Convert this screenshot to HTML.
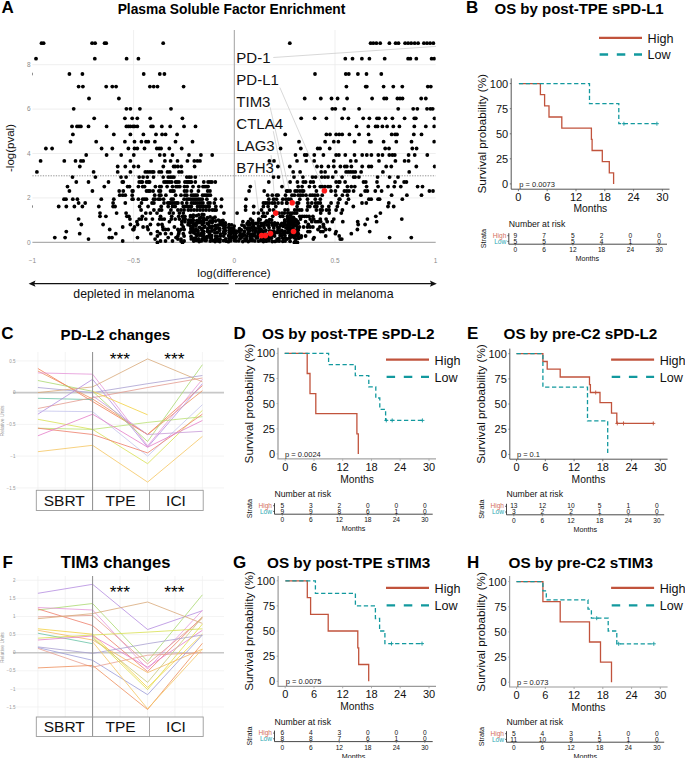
<!DOCTYPE html>
<html><head><meta charset="utf-8"><style>
html,body{margin:0;padding:0;background:#fff;width:685px;height:758px;overflow:hidden}
svg{display:block}
text{font-family:"Liberation Sans",sans-serif}
</style></head><body>
<svg width="685" height="758" viewBox="0 0 685 758">
<rect width="685" height="758" fill="#fff"/>
<text x="466.0" y="13.3" font-size="17" text-anchor="start" font-weight="bold" fill="#000" >B</text>
<text x="494.5" y="14.3" font-size="15" text-anchor="start" font-weight="bold" fill="#000" >OS by post-TPE sPD-L1</text>
<path d="M511.2,78.4 V189.2 H669.5" fill="none" stroke="#555" stroke-width="1.0"/>
<line x1="509.8" y1="183.9" x2="511.2" y2="183.9" stroke="#555" stroke-width="0.8"/>
<text x="508.2" y="187.8" font-size="11" text-anchor="end" font-weight="normal" fill="#111" >0</text>
<line x1="509.8" y1="158.8" x2="511.2" y2="158.8" stroke="#555" stroke-width="0.8"/>
<text x="508.2" y="162.7" font-size="11" text-anchor="end" font-weight="normal" fill="#111" >25</text>
<line x1="509.8" y1="133.8" x2="511.2" y2="133.8" stroke="#555" stroke-width="0.8"/>
<text x="508.2" y="137.7" font-size="11" text-anchor="end" font-weight="normal" fill="#111" >50</text>
<line x1="509.8" y1="108.7" x2="511.2" y2="108.7" stroke="#555" stroke-width="0.8"/>
<text x="508.2" y="112.6" font-size="11" text-anchor="end" font-weight="normal" fill="#111" >75</text>
<line x1="509.8" y1="83.6" x2="511.2" y2="83.6" stroke="#555" stroke-width="0.8"/>
<text x="508.2" y="87.5" font-size="11" text-anchor="end" font-weight="normal" fill="#111" >100</text>
<line x1="518.4" y1="189.2" x2="518.4" y2="191.2" stroke="#555" stroke-width="0.8"/>
<text x="518.4" y="201.0" font-size="11" text-anchor="middle" font-weight="normal" fill="#111" >0</text>
<line x1="547.2" y1="189.2" x2="547.2" y2="191.2" stroke="#555" stroke-width="0.8"/>
<text x="547.2" y="201.0" font-size="11" text-anchor="middle" font-weight="normal" fill="#111" >6</text>
<line x1="576.0" y1="189.2" x2="576.0" y2="191.2" stroke="#555" stroke-width="0.8"/>
<text x="576.0" y="201.0" font-size="11" text-anchor="middle" font-weight="normal" fill="#111" >12</text>
<line x1="604.8" y1="189.2" x2="604.8" y2="191.2" stroke="#555" stroke-width="0.8"/>
<text x="604.8" y="201.0" font-size="11" text-anchor="middle" font-weight="normal" fill="#111" >18</text>
<line x1="633.6" y1="189.2" x2="633.6" y2="191.2" stroke="#555" stroke-width="0.8"/>
<text x="633.6" y="201.0" font-size="11" text-anchor="middle" font-weight="normal" fill="#111" >24</text>
<line x1="662.4" y1="189.2" x2="662.4" y2="191.2" stroke="#555" stroke-width="0.8"/>
<text x="662.4" y="201.0" font-size="11" text-anchor="middle" font-weight="normal" fill="#111" >30</text>
<text x="590.4" y="212.2" font-size="10.3" text-anchor="middle" font-weight="normal" fill="#111" >Months</text>
<text x="0" y="0" text-anchor="middle" fill="#111" transform="translate(486.2,133.75) rotate(-90)" style="font-size:11.7px">Survival probability (%)</text>
<text x="519.3" y="186.9" font-size="7.5" text-anchor="start" font-weight="normal" fill="#222" >p = 0.0073</text>
<path d="M518.9,83.6 H540.4 V94.7 H544.6 V105.9 H549.0 V117.0 H561.8 V128.1 H591.4 V139.4 H592.1 V150.5 H602.3 V161.6 H609.3 V172.8 H613.6 V183.9 H613.6" fill="none" stroke="#C1533C" stroke-width="1.3"/>
<path d="M518.9,83.6 H589.5 V103.7 H618.8 V123.7 H657.4" fill="none" stroke="#12999E" stroke-width="1.3" stroke-dasharray="4.3,2.6"/>
<path d="M621.9,123.7 H625.9 M623.9,121.7 V125.7" stroke="#12999E" stroke-width="0.9"/>
<path d="M654.9,123.7 H658.9 M656.9,121.7 V125.7" stroke="#12999E" stroke-width="0.9"/>
<line x1="599" y1="37.8" x2="642" y2="37.8" stroke="#C1533C" stroke-width="2.3"/>
<text x="647.6" y="42.7" font-size="12.6" text-anchor="start" font-weight="normal" fill="#111" >High</text>
<line x1="599.6" y1="54.5" x2="642" y2="54.5" stroke="#12999E" stroke-width="2.3" stroke-dasharray="8.5,8.7"/>
<text x="647.6" y="59.4" font-size="12.6" text-anchor="start" font-weight="normal" fill="#111" >Low</text>
<text x="508.8" y="227.4" font-size="8.7" text-anchor="start" font-weight="normal" fill="#111" >Number at risk</text>
<path d="M508.8,233.2 V244.2 H667" fill="none" stroke="#333" stroke-width="0.9"/>
<path d="M507.3,235.7 H508.8 M507.3,241.39999999999998 H508.8" stroke="#333" stroke-width="0.7"/>
<line x1="515.3" y1="243.2" x2="515.3" y2="245.7" stroke="#666" stroke-width="0.6"/>
<text x="515.3" y="237.8" font-size="6.6" text-anchor="middle" font-weight="normal" fill="#111" >9</text>
<text x="515.3" y="243.6" font-size="6.6" text-anchor="middle" font-weight="normal" fill="#111" >5</text>
<text x="515.3" y="252.4" font-size="6.6" text-anchor="middle" font-weight="normal" fill="#111" >0</text>
<line x1="544.1" y1="243.2" x2="544.1" y2="245.7" stroke="#666" stroke-width="0.6"/>
<text x="544.1" y="237.8" font-size="6.6" text-anchor="middle" font-weight="normal" fill="#111" >7</text>
<text x="544.1" y="243.6" font-size="6.6" text-anchor="middle" font-weight="normal" fill="#111" >5</text>
<text x="544.1" y="252.4" font-size="6.6" text-anchor="middle" font-weight="normal" fill="#111" >6</text>
<line x1="572.9" y1="243.2" x2="572.9" y2="245.7" stroke="#666" stroke-width="0.6"/>
<text x="572.9" y="237.8" font-size="6.6" text-anchor="middle" font-weight="normal" fill="#111" >5</text>
<text x="572.9" y="243.6" font-size="6.6" text-anchor="middle" font-weight="normal" fill="#111" >5</text>
<text x="572.9" y="252.4" font-size="6.6" text-anchor="middle" font-weight="normal" fill="#111" >12</text>
<line x1="601.6" y1="243.2" x2="601.6" y2="245.7" stroke="#666" stroke-width="0.6"/>
<text x="601.6" y="237.8" font-size="6.6" text-anchor="middle" font-weight="normal" fill="#111" >2</text>
<text x="601.6" y="243.6" font-size="6.6" text-anchor="middle" font-weight="normal" fill="#111" >4</text>
<text x="601.6" y="252.4" font-size="6.6" text-anchor="middle" font-weight="normal" fill="#111" >18</text>
<line x1="630.4" y1="243.2" x2="630.4" y2="245.7" stroke="#666" stroke-width="0.6"/>
<text x="630.4" y="237.8" font-size="6.6" text-anchor="middle" font-weight="normal" fill="#111" >0</text>
<text x="630.4" y="243.6" font-size="6.6" text-anchor="middle" font-weight="normal" fill="#111" >1</text>
<text x="630.4" y="252.4" font-size="6.6" text-anchor="middle" font-weight="normal" fill="#111" >24</text>
<line x1="659.2" y1="243.2" x2="659.2" y2="245.7" stroke="#666" stroke-width="0.6"/>
<text x="659.2" y="237.8" font-size="6.6" text-anchor="middle" font-weight="normal" fill="#111" >0</text>
<text x="659.2" y="243.6" font-size="6.6" text-anchor="middle" font-weight="normal" fill="#111" >0</text>
<text x="659.2" y="252.4" font-size="6.6" text-anchor="middle" font-weight="normal" fill="#111" >30</text>
<text x="506.3" y="237.8" font-size="6.6" text-anchor="end" font-weight="normal" fill="#D36F5E" >High</text>
<text x="506.3" y="243.6" font-size="6.6" text-anchor="end" font-weight="normal" fill="#2BA9B4" >Low</text>
<text x="587.3" y="261.1" font-size="7.2" text-anchor="middle" font-weight="normal" fill="#111" >Months</text>
<text x="0" y="0" text-anchor="middle" fill="#111" transform="translate(486.2,238.6) rotate(-90)" style="font-size:7.2px">Strata</text>
<text x="233.5" y="338.6" font-size="17" text-anchor="start" font-weight="bold" fill="#000" >D</text>
<text x="262.0" y="338.8" font-size="15.3" text-anchor="start" font-weight="bold" fill="#000" >OS by post-TPE sPD-L2</text>
<path d="M278.0,347.7 V458.9 H436" fill="none" stroke="#a5a5a5" stroke-width="1.4"/>
<line x1="276.6" y1="453.9" x2="278.0" y2="453.9" stroke="#a5a5a5" stroke-width="0.8"/>
<text x="275.0" y="457.8" font-size="11" text-anchor="end" font-weight="normal" fill="#111" >0</text>
<line x1="276.6" y1="428.8" x2="278.0" y2="428.8" stroke="#a5a5a5" stroke-width="0.8"/>
<text x="275.0" y="432.7" font-size="11" text-anchor="end" font-weight="normal" fill="#111" >25</text>
<line x1="276.6" y1="403.6" x2="278.0" y2="403.6" stroke="#a5a5a5" stroke-width="0.8"/>
<text x="275.0" y="407.5" font-size="11" text-anchor="end" font-weight="normal" fill="#111" >50</text>
<line x1="276.6" y1="378.5" x2="278.0" y2="378.5" stroke="#a5a5a5" stroke-width="0.8"/>
<text x="275.0" y="382.4" font-size="11" text-anchor="end" font-weight="normal" fill="#111" >75</text>
<line x1="276.6" y1="353.4" x2="278.0" y2="353.4" stroke="#a5a5a5" stroke-width="0.8"/>
<text x="275.0" y="357.3" font-size="11" text-anchor="end" font-weight="normal" fill="#111" >100</text>
<line x1="285.2" y1="458.9" x2="285.2" y2="460.9" stroke="#a5a5a5" stroke-width="0.8"/>
<text x="285.2" y="470.7" font-size="11" text-anchor="middle" font-weight="normal" fill="#111" >0</text>
<line x1="314.0" y1="458.9" x2="314.0" y2="460.9" stroke="#a5a5a5" stroke-width="0.8"/>
<text x="314.0" y="470.7" font-size="11" text-anchor="middle" font-weight="normal" fill="#111" >6</text>
<line x1="342.7" y1="458.9" x2="342.7" y2="460.9" stroke="#a5a5a5" stroke-width="0.8"/>
<text x="342.7" y="470.7" font-size="11" text-anchor="middle" font-weight="normal" fill="#111" >12</text>
<line x1="371.5" y1="458.9" x2="371.5" y2="460.9" stroke="#a5a5a5" stroke-width="0.8"/>
<text x="371.5" y="470.7" font-size="11" text-anchor="middle" font-weight="normal" fill="#111" >18</text>
<line x1="400.2" y1="458.9" x2="400.2" y2="460.9" stroke="#a5a5a5" stroke-width="0.8"/>
<text x="400.2" y="470.7" font-size="11" text-anchor="middle" font-weight="normal" fill="#111" >24</text>
<line x1="429.0" y1="458.9" x2="429.0" y2="460.9" stroke="#a5a5a5" stroke-width="0.8"/>
<text x="429.0" y="470.7" font-size="11" text-anchor="middle" font-weight="normal" fill="#111" >30</text>
<text x="357.1" y="482.7" font-size="10.3" text-anchor="middle" font-weight="normal" fill="#111" >Months</text>
<text x="0" y="0" text-anchor="middle" fill="#111" transform="translate(252.8,403.65) rotate(-90)" style="font-size:11.7px">Survival probability (%)</text>
<text x="285.1" y="456.9" font-size="7.5" text-anchor="start" font-weight="normal" fill="#222" >p = 0.0024</text>
<path d="M284.7,353.4 H307.2 V373.5 H310.0 V393.6 H315.8 V413.7 H356.9 V433.8 H358.3 V453.9 H358.3" fill="none" stroke="#C1533C" stroke-width="1.3"/>
<path d="M284.7,353.4 H328.6 V364.6 H355.3 V375.7 H368.8 V386.9 H375.8 V398.0 H379.8 V409.3 H385.6 V420.4 H422.4" fill="none" stroke="#12999E" stroke-width="1.3" stroke-dasharray="4.3,2.6"/>
<path d="M384.3,420.4 H388.3 M386.3,418.4 V422.4" stroke="#12999E" stroke-width="0.9"/>
<path d="M390.2,420.4 H394.2 M392.2,418.4 V422.4" stroke="#12999E" stroke-width="0.9"/>
<path d="M420.4,420.4 H424.4 M422.4,418.4 V422.4" stroke="#12999E" stroke-width="0.9"/>
<line x1="386" y1="359.7" x2="429" y2="359.7" stroke="#C1533C" stroke-width="2.3"/>
<text x="434.6" y="364.6" font-size="12.6" text-anchor="start" font-weight="normal" fill="#111" >High</text>
<line x1="386.6" y1="376.9" x2="429" y2="376.9" stroke="#12999E" stroke-width="2.3" stroke-dasharray="8.5,8.7"/>
<text x="434.6" y="381.8" font-size="12.6" text-anchor="start" font-weight="normal" fill="#111" >Low</text>
<text x="274.5" y="496.6" font-size="8.7" text-anchor="start" font-weight="normal" fill="#111" >Number at risk</text>
<path d="M274.5,503.20000000000005 V514.2 H432.7" fill="none" stroke="#333" stroke-width="0.9"/>
<path d="M273.0,505.70000000000005 H274.5 M273.0,511.40000000000003 H274.5" stroke="#333" stroke-width="0.7"/>
<line x1="282.3" y1="513.2" x2="282.3" y2="515.7" stroke="#666" stroke-width="0.6"/>
<text x="282.3" y="507.8" font-size="6.6" text-anchor="middle" font-weight="normal" fill="#111" >5</text>
<text x="282.3" y="513.6" font-size="6.6" text-anchor="middle" font-weight="normal" fill="#111" >9</text>
<text x="282.3" y="522.4" font-size="6.6" text-anchor="middle" font-weight="normal" fill="#111" >0</text>
<line x1="310.8" y1="513.2" x2="310.8" y2="515.7" stroke="#666" stroke-width="0.6"/>
<text x="310.8" y="507.8" font-size="6.6" text-anchor="middle" font-weight="normal" fill="#111" >3</text>
<text x="310.8" y="513.6" font-size="6.6" text-anchor="middle" font-weight="normal" fill="#111" >9</text>
<text x="310.8" y="522.4" font-size="6.6" text-anchor="middle" font-weight="normal" fill="#111" >6</text>
<line x1="339.3" y1="513.2" x2="339.3" y2="515.7" stroke="#666" stroke-width="0.6"/>
<text x="339.3" y="507.8" font-size="6.6" text-anchor="middle" font-weight="normal" fill="#111" >2</text>
<text x="339.3" y="513.6" font-size="6.6" text-anchor="middle" font-weight="normal" fill="#111" >8</text>
<text x="339.3" y="522.4" font-size="6.6" text-anchor="middle" font-weight="normal" fill="#111" >12</text>
<line x1="367.8" y1="513.2" x2="367.8" y2="515.7" stroke="#666" stroke-width="0.6"/>
<text x="367.8" y="507.8" font-size="6.6" text-anchor="middle" font-weight="normal" fill="#111" >0</text>
<text x="367.8" y="513.6" font-size="6.6" text-anchor="middle" font-weight="normal" fill="#111" >6</text>
<text x="367.8" y="522.4" font-size="6.6" text-anchor="middle" font-weight="normal" fill="#111" >18</text>
<line x1="396.3" y1="513.2" x2="396.3" y2="515.7" stroke="#666" stroke-width="0.6"/>
<text x="396.3" y="507.8" font-size="6.6" text-anchor="middle" font-weight="normal" fill="#111" >0</text>
<text x="396.3" y="513.6" font-size="6.6" text-anchor="middle" font-weight="normal" fill="#111" >1</text>
<text x="396.3" y="522.4" font-size="6.6" text-anchor="middle" font-weight="normal" fill="#111" >24</text>
<line x1="424.8" y1="513.2" x2="424.8" y2="515.7" stroke="#666" stroke-width="0.6"/>
<text x="424.8" y="507.8" font-size="6.6" text-anchor="middle" font-weight="normal" fill="#111" >0</text>
<text x="424.8" y="513.6" font-size="6.6" text-anchor="middle" font-weight="normal" fill="#111" >0</text>
<text x="424.8" y="522.4" font-size="6.6" text-anchor="middle" font-weight="normal" fill="#111" >30</text>
<text x="272.0" y="507.8" font-size="6.6" text-anchor="end" font-weight="normal" fill="#D36F5E" >High</text>
<text x="272.0" y="513.6" font-size="6.6" text-anchor="end" font-weight="normal" fill="#2BA9B4" >Low</text>
<text x="353.6" y="531.1" font-size="7.2" text-anchor="middle" font-weight="normal" fill="#111" >Months</text>
<text x="0" y="0" text-anchor="middle" fill="#111" transform="translate(251.9,508.6) rotate(-90)" style="font-size:7.2px">Strata</text>
<text x="467.0" y="338.6" font-size="17" text-anchor="start" font-weight="bold" fill="#000" >E</text>
<text x="503.5" y="338.8" font-size="15.3" text-anchor="start" font-weight="bold" fill="#000" >OS by pre-C2 sPD-L2</text>
<path d="M509.8,348.6 V459.2 H667.6" fill="none" stroke="#555" stroke-width="1.0"/>
<line x1="508.40000000000003" y1="454.4" x2="509.8" y2="454.4" stroke="#555" stroke-width="0.8"/>
<text x="506.8" y="458.3" font-size="11" text-anchor="end" font-weight="normal" fill="#111" >0</text>
<line x1="508.40000000000003" y1="429.2" x2="509.8" y2="429.2" stroke="#555" stroke-width="0.8"/>
<text x="506.8" y="433.1" font-size="11" text-anchor="end" font-weight="normal" fill="#111" >25</text>
<line x1="508.40000000000003" y1="404.0" x2="509.8" y2="404.0" stroke="#555" stroke-width="0.8"/>
<text x="506.8" y="407.9" font-size="11" text-anchor="end" font-weight="normal" fill="#111" >50</text>
<line x1="508.40000000000003" y1="378.9" x2="509.8" y2="378.9" stroke="#555" stroke-width="0.8"/>
<text x="506.8" y="382.8" font-size="11" text-anchor="end" font-weight="normal" fill="#111" >75</text>
<line x1="508.40000000000003" y1="353.7" x2="509.8" y2="353.7" stroke="#555" stroke-width="0.8"/>
<text x="506.8" y="357.6" font-size="11" text-anchor="end" font-weight="normal" fill="#111" >100</text>
<line x1="516.6" y1="459.2" x2="516.6" y2="461.2" stroke="#555" stroke-width="0.8"/>
<text x="516.6" y="471.0" font-size="11" text-anchor="middle" font-weight="normal" fill="#111" >0</text>
<line x1="545.3" y1="459.2" x2="545.3" y2="461.2" stroke="#555" stroke-width="0.8"/>
<text x="545.3" y="471.0" font-size="11" text-anchor="middle" font-weight="normal" fill="#111" >6</text>
<line x1="574.1" y1="459.2" x2="574.1" y2="461.2" stroke="#555" stroke-width="0.8"/>
<text x="574.1" y="471.0" font-size="11" text-anchor="middle" font-weight="normal" fill="#111" >12</text>
<line x1="602.8" y1="459.2" x2="602.8" y2="461.2" stroke="#555" stroke-width="0.8"/>
<text x="602.8" y="471.0" font-size="11" text-anchor="middle" font-weight="normal" fill="#111" >18</text>
<line x1="631.6" y1="459.2" x2="631.6" y2="461.2" stroke="#555" stroke-width="0.8"/>
<text x="631.6" y="471.0" font-size="11" text-anchor="middle" font-weight="normal" fill="#111" >24</text>
<line x1="660.3" y1="459.2" x2="660.3" y2="461.2" stroke="#555" stroke-width="0.8"/>
<text x="660.3" y="471.0" font-size="11" text-anchor="middle" font-weight="normal" fill="#111" >30</text>
<text x="588.5" y="483.0" font-size="10.3" text-anchor="middle" font-weight="normal" fill="#111" >Months</text>
<text x="0" y="0" text-anchor="middle" fill="#111" transform="translate(484.5,404.04999999999995) rotate(-90)" style="font-size:11.7px">Survival probability (%)</text>
<text x="516.9" y="457.4" font-size="7.5" text-anchor="start" font-weight="normal" fill="#222" >p = 0.1</text>
<path d="M516.5,353.7 H542.9 V361.5 H547.2 V369.2 H560.2 V377.0 H589.5 V384.7 H590.4 V392.5 H600.0 V402.7 H611.5 V413.1 H616.8 V423.4 H653.8" fill="none" stroke="#C1533C" stroke-width="1.3"/>
<path d="M516.5,353.7 H542.9 V387.2 H587.5 V420.9 H607.7 V454.4 H607.7" fill="none" stroke="#12999E" stroke-width="1.3" stroke-dasharray="4.3,2.6"/>
<path d="M593.7,392.5 H597.7 M595.7,390.5 V394.5" stroke="#C1533C" stroke-width="0.9"/>
<path d="M615.3,423.4 H619.3 M617.3,421.4 V425.4" stroke="#C1533C" stroke-width="0.9"/>
<path d="M621.5,423.4 H625.5 M623.5,421.4 V425.4" stroke="#C1533C" stroke-width="0.9"/>
<path d="M651.3,423.4 H655.3 M653.3,421.4 V425.4" stroke="#C1533C" stroke-width="0.9"/>
<line x1="611.1" y1="359.7" x2="654.1" y2="359.7" stroke="#C1533C" stroke-width="2.3"/>
<text x="659.7" y="364.6" font-size="12.6" text-anchor="start" font-weight="normal" fill="#111" >High</text>
<line x1="611.7" y1="376.9" x2="654.1" y2="376.9" stroke="#12999E" stroke-width="2.3" stroke-dasharray="8.5,8.7"/>
<text x="659.7" y="381.8" font-size="12.6" text-anchor="start" font-weight="normal" fill="#111" >Low</text>
<text x="506.5" y="497.1" font-size="8.7" text-anchor="start" font-weight="normal" fill="#111" >Number at risk</text>
<path d="M506.5,503.79999999999995 V514.8 H664.2" fill="none" stroke="#333" stroke-width="0.9"/>
<path d="M505.0,506.29999999999995 H506.5 M505.0,511.99999999999994 H506.5" stroke="#333" stroke-width="0.7"/>
<line x1="513.8" y1="513.8" x2="513.8" y2="516.3" stroke="#666" stroke-width="0.6"/>
<text x="513.8" y="508.4" font-size="6.6" text-anchor="middle" font-weight="normal" fill="#111" >13</text>
<text x="513.8" y="514.2" font-size="6.6" text-anchor="middle" font-weight="normal" fill="#111" >3</text>
<text x="513.8" y="523.0" font-size="6.6" text-anchor="middle" font-weight="normal" fill="#111" >0</text>
<line x1="542.4" y1="513.8" x2="542.4" y2="516.3" stroke="#666" stroke-width="0.6"/>
<text x="542.4" y="508.4" font-size="6.6" text-anchor="middle" font-weight="normal" fill="#111" >12</text>
<text x="542.4" y="514.2" font-size="6.6" text-anchor="middle" font-weight="normal" fill="#111" >2</text>
<text x="542.4" y="523.0" font-size="6.6" text-anchor="middle" font-weight="normal" fill="#111" >6</text>
<line x1="571.0" y1="513.8" x2="571.0" y2="516.3" stroke="#666" stroke-width="0.6"/>
<text x="571.0" y="508.4" font-size="6.6" text-anchor="middle" font-weight="normal" fill="#111" >10</text>
<text x="571.0" y="514.2" font-size="6.6" text-anchor="middle" font-weight="normal" fill="#111" >2</text>
<text x="571.0" y="523.0" font-size="6.6" text-anchor="middle" font-weight="normal" fill="#111" >12</text>
<line x1="599.7" y1="513.8" x2="599.7" y2="516.3" stroke="#666" stroke-width="0.6"/>
<text x="599.7" y="508.4" font-size="6.6" text-anchor="middle" font-weight="normal" fill="#111" >5</text>
<text x="599.7" y="514.2" font-size="6.6" text-anchor="middle" font-weight="normal" fill="#111" >1</text>
<text x="599.7" y="523.0" font-size="6.6" text-anchor="middle" font-weight="normal" fill="#111" >18</text>
<line x1="628.3" y1="513.8" x2="628.3" y2="516.3" stroke="#666" stroke-width="0.6"/>
<text x="628.3" y="508.4" font-size="6.6" text-anchor="middle" font-weight="normal" fill="#111" >1</text>
<text x="628.3" y="514.2" font-size="6.6" text-anchor="middle" font-weight="normal" fill="#111" >0</text>
<text x="628.3" y="523.0" font-size="6.6" text-anchor="middle" font-weight="normal" fill="#111" >24</text>
<line x1="656.9" y1="513.8" x2="656.9" y2="516.3" stroke="#666" stroke-width="0.6"/>
<text x="656.9" y="508.4" font-size="6.6" text-anchor="middle" font-weight="normal" fill="#111" >0</text>
<text x="656.9" y="514.2" font-size="6.6" text-anchor="middle" font-weight="normal" fill="#111" >0</text>
<text x="656.9" y="523.0" font-size="6.6" text-anchor="middle" font-weight="normal" fill="#111" >30</text>
<text x="504.0" y="508.4" font-size="6.6" text-anchor="end" font-weight="normal" fill="#D36F5E" >High</text>
<text x="504.0" y="514.2" font-size="6.6" text-anchor="end" font-weight="normal" fill="#2BA9B4" >Low</text>
<text x="585.3" y="531.7" font-size="7.2" text-anchor="middle" font-weight="normal" fill="#111" >Months</text>
<text x="0" y="0" text-anchor="middle" fill="#111" transform="translate(483.9,509.19999999999993) rotate(-90)" style="font-size:7.2px">Strata</text>
<text x="233.0" y="568.0" font-size="17" text-anchor="start" font-weight="bold" fill="#000" >G</text>
<text x="267.0" y="568.1" font-size="15.3" text-anchor="start" font-weight="bold" fill="#000" >OS by post-TPE sTIM3</text>
<path d="M278.1,576 V686.3 H436" fill="none" stroke="#9a9a9a" stroke-width="1.2"/>
<line x1="276.70000000000005" y1="681.3" x2="278.1" y2="681.3" stroke="#9a9a9a" stroke-width="0.8"/>
<text x="275.1" y="685.2" font-size="11" text-anchor="end" font-weight="normal" fill="#111" >0</text>
<line x1="276.70000000000005" y1="656.2" x2="278.1" y2="656.2" stroke="#9a9a9a" stroke-width="0.8"/>
<text x="275.1" y="660.1" font-size="11" text-anchor="end" font-weight="normal" fill="#111" >25</text>
<line x1="276.70000000000005" y1="631.0" x2="278.1" y2="631.0" stroke="#9a9a9a" stroke-width="0.8"/>
<text x="275.1" y="634.9" font-size="11" text-anchor="end" font-weight="normal" fill="#111" >50</text>
<line x1="276.70000000000005" y1="605.9" x2="278.1" y2="605.9" stroke="#9a9a9a" stroke-width="0.8"/>
<text x="275.1" y="609.8" font-size="11" text-anchor="end" font-weight="normal" fill="#111" >75</text>
<line x1="276.70000000000005" y1="580.8" x2="278.1" y2="580.8" stroke="#9a9a9a" stroke-width="0.8"/>
<text x="275.1" y="584.7" font-size="11" text-anchor="end" font-weight="normal" fill="#111" >100</text>
<line x1="285.2" y1="686.3" x2="285.2" y2="688.3" stroke="#9a9a9a" stroke-width="0.8"/>
<text x="285.2" y="698.1" font-size="11" text-anchor="middle" font-weight="normal" fill="#111" >0</text>
<line x1="314.0" y1="686.3" x2="314.0" y2="688.3" stroke="#9a9a9a" stroke-width="0.8"/>
<text x="314.0" y="698.1" font-size="11" text-anchor="middle" font-weight="normal" fill="#111" >6</text>
<line x1="342.7" y1="686.3" x2="342.7" y2="688.3" stroke="#9a9a9a" stroke-width="0.8"/>
<text x="342.7" y="698.1" font-size="11" text-anchor="middle" font-weight="normal" fill="#111" >12</text>
<line x1="371.5" y1="686.3" x2="371.5" y2="688.3" stroke="#9a9a9a" stroke-width="0.8"/>
<text x="371.5" y="698.1" font-size="11" text-anchor="middle" font-weight="normal" fill="#111" >18</text>
<line x1="400.2" y1="686.3" x2="400.2" y2="688.3" stroke="#9a9a9a" stroke-width="0.8"/>
<text x="400.2" y="698.1" font-size="11" text-anchor="middle" font-weight="normal" fill="#111" >24</text>
<line x1="429.0" y1="686.3" x2="429.0" y2="688.3" stroke="#9a9a9a" stroke-width="0.8"/>
<text x="429.0" y="698.1" font-size="11" text-anchor="middle" font-weight="normal" fill="#111" >30</text>
<text x="357.1" y="710.1" font-size="10.3" text-anchor="middle" font-weight="normal" fill="#111" >Months</text>
<text x="0" y="0" text-anchor="middle" fill="#111" transform="translate(252.8,631.05) rotate(-90)" style="font-size:11.7px">Survival probability (%)</text>
<text x="285.8" y="684.3" font-size="7.5" text-anchor="start" font-weight="normal" fill="#222" >p = 0.0075</text>
<path d="M285.4,580.8 H307.3 V597.6 H310.6 V614.3 H328.2 V631.0 H357.8 V647.8 H358.7 V664.5 H368.7 V681.3 H368.7" fill="none" stroke="#C1533C" stroke-width="1.3"/>
<path d="M285.4,580.8 H315.4 V593.4 H355.4 V605.9 H375.4 V618.5 H379.6 V631.0 H384.9 V643.6 H423.0" fill="none" stroke="#12999E" stroke-width="1.3" stroke-dasharray="4.3,2.6"/>
<path d="M389.5,643.6 H393.5 M391.5,641.6 V645.6" stroke="#12999E" stroke-width="0.9"/>
<path d="M420.0,643.6 H424.0 M422.0,641.6 V645.6" stroke="#12999E" stroke-width="0.9"/>
<line x1="386" y1="587.8" x2="429" y2="587.8" stroke="#C1533C" stroke-width="2.3"/>
<text x="434.6" y="592.7" font-size="12.6" text-anchor="start" font-weight="normal" fill="#111" >High</text>
<line x1="386.6" y1="605.3" x2="429" y2="605.3" stroke="#12999E" stroke-width="2.3" stroke-dasharray="8.5,8.7"/>
<text x="434.6" y="610.2" font-size="12.6" text-anchor="start" font-weight="normal" fill="#111" >Low</text>
<text x="274.5" y="724.6" font-size="8.7" text-anchor="start" font-weight="normal" fill="#111" >Number at risk</text>
<path d="M274.5,730.6 V741.6 H432.7" fill="none" stroke="#333" stroke-width="0.9"/>
<path d="M273.0,733.1 H274.5 M273.0,738.8000000000001 H274.5" stroke="#333" stroke-width="0.7"/>
<line x1="282.3" y1="740.6" x2="282.3" y2="743.1" stroke="#666" stroke-width="0.6"/>
<text x="282.3" y="735.2" font-size="6.6" text-anchor="middle" font-weight="normal" fill="#111" >6</text>
<text x="282.3" y="741.0" font-size="6.6" text-anchor="middle" font-weight="normal" fill="#111" >8</text>
<text x="282.3" y="749.8" font-size="6.6" text-anchor="middle" font-weight="normal" fill="#111" >0</text>
<line x1="310.8" y1="740.6" x2="310.8" y2="743.1" stroke="#666" stroke-width="0.6"/>
<text x="310.8" y="735.2" font-size="6.6" text-anchor="middle" font-weight="normal" fill="#111" >4</text>
<text x="310.8" y="741.0" font-size="6.6" text-anchor="middle" font-weight="normal" fill="#111" >8</text>
<text x="310.8" y="749.8" font-size="6.6" text-anchor="middle" font-weight="normal" fill="#111" >6</text>
<line x1="339.3" y1="740.6" x2="339.3" y2="743.1" stroke="#666" stroke-width="0.6"/>
<text x="339.3" y="735.2" font-size="6.6" text-anchor="middle" font-weight="normal" fill="#111" >3</text>
<text x="339.3" y="741.0" font-size="6.6" text-anchor="middle" font-weight="normal" fill="#111" >7</text>
<text x="339.3" y="749.8" font-size="6.6" text-anchor="middle" font-weight="normal" fill="#111" >12</text>
<line x1="367.8" y1="740.6" x2="367.8" y2="743.1" stroke="#666" stroke-width="0.6"/>
<text x="367.8" y="735.2" font-size="6.6" text-anchor="middle" font-weight="normal" fill="#111" >0</text>
<text x="367.8" y="741.0" font-size="6.6" text-anchor="middle" font-weight="normal" fill="#111" >6</text>
<text x="367.8" y="749.8" font-size="6.6" text-anchor="middle" font-weight="normal" fill="#111" >18</text>
<line x1="396.3" y1="740.6" x2="396.3" y2="743.1" stroke="#666" stroke-width="0.6"/>
<text x="396.3" y="735.2" font-size="6.6" text-anchor="middle" font-weight="normal" fill="#111" >0</text>
<text x="396.3" y="741.0" font-size="6.6" text-anchor="middle" font-weight="normal" fill="#111" >1</text>
<text x="396.3" y="749.8" font-size="6.6" text-anchor="middle" font-weight="normal" fill="#111" >24</text>
<line x1="424.8" y1="740.6" x2="424.8" y2="743.1" stroke="#666" stroke-width="0.6"/>
<text x="424.8" y="735.2" font-size="6.6" text-anchor="middle" font-weight="normal" fill="#111" >0</text>
<text x="424.8" y="741.0" font-size="6.6" text-anchor="middle" font-weight="normal" fill="#111" >0</text>
<text x="424.8" y="749.8" font-size="6.6" text-anchor="middle" font-weight="normal" fill="#111" >30</text>
<text x="272.0" y="735.2" font-size="6.6" text-anchor="end" font-weight="normal" fill="#D36F5E" >High</text>
<text x="272.0" y="741.0" font-size="6.6" text-anchor="end" font-weight="normal" fill="#2BA9B4" >Low</text>
<text x="353.6" y="758.5" font-size="7.2" text-anchor="middle" font-weight="normal" fill="#111" >Months</text>
<text x="0" y="0" text-anchor="middle" fill="#111" transform="translate(251.9,736.0) rotate(-90)" style="font-size:7.2px">Strata</text>
<text x="467.0" y="568.0" font-size="17" text-anchor="start" font-weight="bold" fill="#000" >H</text>
<text x="508.5" y="568.1" font-size="15.3" text-anchor="start" font-weight="bold" fill="#000" >OS by pre-C2 sTIM3</text>
<path d="M509.6,576 V687.0 H667.6" fill="none" stroke="#9a9a9a" stroke-width="1.2"/>
<line x1="508.20000000000005" y1="682.2" x2="509.6" y2="682.2" stroke="#9a9a9a" stroke-width="0.8"/>
<text x="506.6" y="686.1" font-size="11" text-anchor="end" font-weight="normal" fill="#111" >0</text>
<line x1="508.20000000000005" y1="657.1" x2="509.6" y2="657.1" stroke="#9a9a9a" stroke-width="0.8"/>
<text x="506.6" y="661.0" font-size="11" text-anchor="end" font-weight="normal" fill="#111" >25</text>
<line x1="508.20000000000005" y1="631.9" x2="509.6" y2="631.9" stroke="#9a9a9a" stroke-width="0.8"/>
<text x="506.6" y="635.8" font-size="11" text-anchor="end" font-weight="normal" fill="#111" >50</text>
<line x1="508.20000000000005" y1="606.8" x2="509.6" y2="606.8" stroke="#9a9a9a" stroke-width="0.8"/>
<text x="506.6" y="610.6" font-size="11" text-anchor="end" font-weight="normal" fill="#111" >75</text>
<line x1="508.20000000000005" y1="581.6" x2="509.6" y2="581.6" stroke="#9a9a9a" stroke-width="0.8"/>
<text x="506.6" y="585.5" font-size="11" text-anchor="end" font-weight="normal" fill="#111" >100</text>
<line x1="516.6" y1="687.0" x2="516.6" y2="689.0" stroke="#9a9a9a" stroke-width="0.8"/>
<text x="516.6" y="698.8" font-size="11" text-anchor="middle" font-weight="normal" fill="#111" >0</text>
<line x1="545.3" y1="687.0" x2="545.3" y2="689.0" stroke="#9a9a9a" stroke-width="0.8"/>
<text x="545.3" y="698.8" font-size="11" text-anchor="middle" font-weight="normal" fill="#111" >6</text>
<line x1="574.1" y1="687.0" x2="574.1" y2="689.0" stroke="#9a9a9a" stroke-width="0.8"/>
<text x="574.1" y="698.8" font-size="11" text-anchor="middle" font-weight="normal" fill="#111" >12</text>
<line x1="602.8" y1="687.0" x2="602.8" y2="689.0" stroke="#9a9a9a" stroke-width="0.8"/>
<text x="602.8" y="698.8" font-size="11" text-anchor="middle" font-weight="normal" fill="#111" >18</text>
<line x1="631.6" y1="687.0" x2="631.6" y2="689.0" stroke="#9a9a9a" stroke-width="0.8"/>
<text x="631.6" y="698.8" font-size="11" text-anchor="middle" font-weight="normal" fill="#111" >24</text>
<line x1="660.3" y1="687.0" x2="660.3" y2="689.0" stroke="#9a9a9a" stroke-width="0.8"/>
<text x="660.3" y="698.8" font-size="11" text-anchor="middle" font-weight="normal" fill="#111" >30</text>
<text x="588.5" y="710.8" font-size="10.3" text-anchor="middle" font-weight="normal" fill="#111" >Months</text>
<text x="0" y="0" text-anchor="middle" fill="#111" transform="translate(484.5,631.9000000000001) rotate(-90)" style="font-size:11.7px">Survival probability (%)</text>
<text x="516.9" y="685.2" font-size="7.5" text-anchor="start" font-weight="normal" fill="#222" >p = 0.073</text>
<path d="M516.5,581.6 H542.9 V601.7 H560.2 V621.8 H589.5 V642.0 H600.5 V662.1 H611.5 V682.2 H611.5" fill="none" stroke="#C1533C" stroke-width="1.3"/>
<path d="M516.5,581.6 H542.9 V590.8 H546.3 V599.9 H588.0 V609.1 H591.4 V618.2 H608.2 V631.0 H616.8 V643.8 H653.8" fill="none" stroke="#12999E" stroke-width="1.3" stroke-dasharray="4.3,2.6"/>
<path d="M594.7,618.2 H598.7 M596.7,616.2 V620.2" stroke="#12999E" stroke-width="0.9"/>
<path d="M616.7,643.8 H620.7 M618.7,641.8 V645.8" stroke="#12999E" stroke-width="0.9"/>
<path d="M651.8,643.8 H655.8 M653.8,641.8 V645.8" stroke="#12999E" stroke-width="0.9"/>
<line x1="611.1" y1="587.8" x2="654.1" y2="587.8" stroke="#C1533C" stroke-width="2.3"/>
<text x="659.7" y="592.7" font-size="12.6" text-anchor="start" font-weight="normal" fill="#111" >High</text>
<line x1="611.7" y1="605.3" x2="654.1" y2="605.3" stroke="#12999E" stroke-width="2.3" stroke-dasharray="8.5,8.7"/>
<text x="659.7" y="610.2" font-size="12.6" text-anchor="start" font-weight="normal" fill="#111" >Low</text>
<text x="506.5" y="725.1" font-size="8.7" text-anchor="start" font-weight="normal" fill="#111" >Number at risk</text>
<path d="M506.5,731.2 V742.2 H664.2" fill="none" stroke="#333" stroke-width="0.9"/>
<path d="M505.0,733.7 H506.5 M505.0,739.4000000000001 H506.5" stroke="#333" stroke-width="0.7"/>
<line x1="513.8" y1="741.2" x2="513.8" y2="743.7" stroke="#666" stroke-width="0.6"/>
<text x="513.8" y="735.8" font-size="6.6" text-anchor="middle" font-weight="normal" fill="#111" >5</text>
<text x="513.8" y="741.6" font-size="6.6" text-anchor="middle" font-weight="normal" fill="#111" >11</text>
<text x="513.8" y="750.4" font-size="6.6" text-anchor="middle" font-weight="normal" fill="#111" >0</text>
<line x1="542.4" y1="741.2" x2="542.4" y2="743.7" stroke="#666" stroke-width="0.6"/>
<text x="542.4" y="735.8" font-size="6.6" text-anchor="middle" font-weight="normal" fill="#111" >4</text>
<text x="542.4" y="741.6" font-size="6.6" text-anchor="middle" font-weight="normal" fill="#111" >10</text>
<text x="542.4" y="750.4" font-size="6.6" text-anchor="middle" font-weight="normal" fill="#111" >6</text>
<line x1="571.0" y1="741.2" x2="571.0" y2="743.7" stroke="#666" stroke-width="0.6"/>
<text x="571.0" y="735.8" font-size="6.6" text-anchor="middle" font-weight="normal" fill="#111" >3</text>
<text x="571.0" y="741.6" font-size="6.6" text-anchor="middle" font-weight="normal" fill="#111" >9</text>
<text x="571.0" y="750.4" font-size="6.6" text-anchor="middle" font-weight="normal" fill="#111" >12</text>
<line x1="599.7" y1="741.2" x2="599.7" y2="743.7" stroke="#666" stroke-width="0.6"/>
<text x="599.7" y="735.8" font-size="6.6" text-anchor="middle" font-weight="normal" fill="#111" >1</text>
<text x="599.7" y="741.6" font-size="6.6" text-anchor="middle" font-weight="normal" fill="#111" >5</text>
<text x="599.7" y="750.4" font-size="6.6" text-anchor="middle" font-weight="normal" fill="#111" >18</text>
<line x1="628.3" y1="741.2" x2="628.3" y2="743.7" stroke="#666" stroke-width="0.6"/>
<text x="628.3" y="735.8" font-size="6.6" text-anchor="middle" font-weight="normal" fill="#111" >0</text>
<text x="628.3" y="741.6" font-size="6.6" text-anchor="middle" font-weight="normal" fill="#111" >1</text>
<text x="628.3" y="750.4" font-size="6.6" text-anchor="middle" font-weight="normal" fill="#111" >24</text>
<line x1="656.9" y1="741.2" x2="656.9" y2="743.7" stroke="#666" stroke-width="0.6"/>
<text x="656.9" y="735.8" font-size="6.6" text-anchor="middle" font-weight="normal" fill="#111" >0</text>
<text x="656.9" y="741.6" font-size="6.6" text-anchor="middle" font-weight="normal" fill="#111" >0</text>
<text x="656.9" y="750.4" font-size="6.6" text-anchor="middle" font-weight="normal" fill="#111" >30</text>
<text x="504.0" y="735.8" font-size="6.6" text-anchor="end" font-weight="normal" fill="#D36F5E" >High</text>
<text x="504.0" y="741.6" font-size="6.6" text-anchor="end" font-weight="normal" fill="#2BA9B4" >Low</text>
<text x="585.3" y="759.1" font-size="7.2" text-anchor="middle" font-weight="normal" fill="#111" >Months</text>
<text x="0" y="0" text-anchor="middle" fill="#111" transform="translate(483.9,736.6) rotate(-90)" style="font-size:7.2px">Strata</text>
<text x="1.5" y="13.3" font-size="17" text-anchor="start" font-weight="bold" fill="#000" >A</text>
<text x="231.5" y="14.3" font-size="13.8" text-anchor="middle" font-weight="bold" fill="#000" >Plasma Soluble Factor Enrichment</text>
<defs><clipPath id="clipA"><rect x="32.4" y="30" width="403.3" height="214"/></clipPath></defs>
<line x1="32.4" y1="197.9" x2="435.7" y2="197.9" stroke="#ebebeb" stroke-width="0.8"/>
<text x="30.5" y="200.2" font-size="6.5" text-anchor="end" font-weight="normal" fill="#8a8a8a" >2</text>
<line x1="32.4" y1="153.5" x2="435.7" y2="153.5" stroke="#ebebeb" stroke-width="0.8"/>
<text x="30.5" y="155.8" font-size="6.5" text-anchor="end" font-weight="normal" fill="#8a8a8a" >4</text>
<line x1="32.4" y1="109.1" x2="435.7" y2="109.1" stroke="#ebebeb" stroke-width="0.8"/>
<text x="30.5" y="111.4" font-size="6.5" text-anchor="end" font-weight="normal" fill="#8a8a8a" >6</text>
<line x1="32.4" y1="64.7" x2="435.7" y2="64.7" stroke="#ebebeb" stroke-width="0.8"/>
<text x="30.5" y="67.0" font-size="6.5" text-anchor="end" font-weight="normal" fill="#8a8a8a" >8</text>
<text x="30.5" y="244.6" font-size="6.5" text-anchor="end" font-weight="normal" fill="#8a8a8a" >0</text>
<line x1="133.6" y1="30" x2="133.6" y2="242.3" stroke="#ebebeb" stroke-width="0.8"/>
<line x1="335.0" y1="30" x2="335.0" y2="242.3" stroke="#ebebeb" stroke-width="0.8"/>
<line x1="32.4" y1="242.3" x2="435.7" y2="242.3" stroke="#9a9a9a" stroke-width="1"/>
<line x1="234.3" y1="30" x2="234.3" y2="242.3" stroke="#a0a0a0" stroke-width="1"/>
<line x1="32.4" y1="175.8" x2="435.7" y2="175.8" stroke="#888" stroke-width="0.9" stroke-dasharray="1.3,1.3"/>
<text x="32.4" y="262.6" font-size="6.5" text-anchor="middle" font-weight="normal" fill="#8a8a8a" >−1</text>
<text x="133.7" y="262.6" font-size="6.5" text-anchor="middle" font-weight="normal" fill="#8a8a8a" >−0.5</text>
<text x="234.3" y="262.6" font-size="6.5" text-anchor="middle" font-weight="normal" fill="#8a8a8a" >0</text>
<text x="335.0" y="262.6" font-size="6.5" text-anchor="middle" font-weight="normal" fill="#8a8a8a" >0.5</text>
<text x="435.5" y="262.6" font-size="6.5" text-anchor="middle" font-weight="normal" fill="#8a8a8a" >1</text>
<text x="234.0" y="276.8" font-size="11.5" text-anchor="middle" font-weight="normal" fill="#111" >log(difference)</text>
<text x="0" y="0" font-size="11.5" text-anchor="middle" fill="#111" transform="translate(14.0,148) rotate(-90)">-log(pval)</text>
<line x1="33" y1="283.7" x2="228.7" y2="283.7" stroke="#111" stroke-width="1.3"/>
<path d="M28.6,283.7 L35.5,280.6 L34.2,283.7 L35.5,286.8 Z" fill="#111"/>
<line x1="235" y1="283.7" x2="432" y2="283.7" stroke="#111" stroke-width="1.3"/>
<path d="M436.8,283.7 L429.9,280.6 L431.2,283.7 L429.9,286.8 Z" fill="#111"/>
<text x="133.8" y="297.6" font-size="12.3" text-anchor="middle" font-weight="normal" fill="#111" >depleted in melanoma</text>
<text x="332.8" y="297.6" font-size="12.35" text-anchor="middle" font-weight="normal" fill="#111" >enriched in melanoma</text>
<line x1="273.3" y1="57.5" x2="436" y2="46.4" stroke="#bdbdbd" stroke-width="0.6" fill="none"/>
<line x1="279.9" y1="87.6" x2="324.4" y2="190.7" stroke="#bdbdbd" stroke-width="0.6" fill="none"/>
<line x1="270.1" y1="107.2" x2="292.2" y2="202.7" stroke="#bdbdbd" stroke-width="0.6" fill="none"/>
<line x1="273.3" y1="131.2" x2="293.5" y2="231.5" stroke="#bdbdbd" stroke-width="0.6" fill="none"/>
<line x1="271.1" y1="155.2" x2="275.7" y2="213.1" stroke="#bdbdbd" stroke-width="0.6" fill="none"/>
<line x1="254.8" y1="180.2" x2="261.6" y2="235.6" stroke="#bdbdbd" stroke-width="0.6" fill="none"/>
<g clip-path="url(#clipA)" fill="#000"><circle cx="41.5" cy="43.2" r="1.9"/><circle cx="43.6" cy="43.2" r="1.9"/><circle cx="92.1" cy="43.2" r="1.9"/><circle cx="95.1" cy="43.2" r="1.9"/><circle cx="104.6" cy="43.2" r="1.9"/><circle cx="106.2" cy="43.2" r="1.9"/><circle cx="163.2" cy="43.2" r="1.9"/><circle cx="289.8" cy="43.2" r="1.9"/><circle cx="370.6" cy="43.2" r="1.9"/><circle cx="373.3" cy="43.2" r="1.9"/><circle cx="376.4" cy="43.2" r="1.9"/><circle cx="380.2" cy="43.2" r="1.9"/><circle cx="389.4" cy="43.2" r="1.9"/><circle cx="395.6" cy="43.2" r="1.9"/><circle cx="398.5" cy="43.2" r="1.9"/><circle cx="405.1" cy="43.2" r="1.9"/><circle cx="408.1" cy="43.2" r="1.9"/><circle cx="411.2" cy="43.2" r="1.9"/><circle cx="414.7" cy="43.2" r="1.9"/><circle cx="418.1" cy="43.2" r="1.9"/><circle cx="423.9" cy="43.2" r="1.9"/><circle cx="427.0" cy="43.2" r="1.9"/><circle cx="430.1" cy="43.2" r="1.9"/><circle cx="433.4" cy="43.2" r="1.9"/><circle cx="36.0" cy="58.7" r="1.9"/><circle cx="94.8" cy="58.7" r="1.9"/><circle cx="126.6" cy="58.7" r="1.9"/><circle cx="138.4" cy="58.7" r="1.9"/><circle cx="345.3" cy="58.7" r="1.9"/><circle cx="352.5" cy="58.7" r="1.9"/><circle cx="361.9" cy="58.7" r="1.9"/><circle cx="369.4" cy="58.7" r="1.9"/><circle cx="384.7" cy="58.7" r="1.9"/><circle cx="408.1" cy="58.7" r="1.9"/><circle cx="410.4" cy="58.7" r="1.9"/><circle cx="416.3" cy="58.7" r="1.9"/><circle cx="431.6" cy="58.7" r="1.9"/><circle cx="434.2" cy="58.7" r="1.9"/><circle cx="30.9" cy="74.0" r="1.9"/><circle cx="69.4" cy="74.0" r="1.9"/><circle cx="82.4" cy="74.0" r="1.9"/><circle cx="143.7" cy="74.0" r="1.9"/><circle cx="159.8" cy="74.0" r="1.9"/><circle cx="164.4" cy="74.0" r="1.9"/><circle cx="315.0" cy="74.0" r="1.9"/><circle cx="345.8" cy="74.0" r="1.9"/><circle cx="348.8" cy="74.0" r="1.9"/><circle cx="357.9" cy="74.0" r="1.9"/><circle cx="366.5" cy="74.0" r="1.9"/><circle cx="381.3" cy="74.0" r="1.9"/><circle cx="78.6" cy="86.6" r="1.9"/><circle cx="82.9" cy="86.6" r="1.9"/><circle cx="106.2" cy="86.6" r="1.9"/><circle cx="112.3" cy="86.6" r="1.9"/><circle cx="116.1" cy="86.6" r="1.9"/><circle cx="149.9" cy="86.6" r="1.9"/><circle cx="153.7" cy="86.6" r="1.9"/><circle cx="157.5" cy="86.6" r="1.9"/><circle cx="183.6" cy="86.6" r="1.9"/><circle cx="346.4" cy="86.6" r="1.9"/><circle cx="365.7" cy="86.6" r="1.9"/><circle cx="366.8" cy="86.6" r="1.9"/><circle cx="383.6" cy="86.6" r="1.9"/><circle cx="393.3" cy="86.6" r="1.9"/><circle cx="402.3" cy="86.6" r="1.9"/><circle cx="427.8" cy="86.6" r="1.9"/><circle cx="430.8" cy="86.6" r="1.9"/><circle cx="89.0" cy="98.5" r="1.9"/><circle cx="118.9" cy="98.5" r="1.9"/><circle cx="304.7" cy="98.5" r="1.9"/><circle cx="320.8" cy="98.5" r="1.9"/><circle cx="331.5" cy="98.5" r="1.9"/><circle cx="337.6" cy="98.5" r="1.9"/><circle cx="347.1" cy="98.5" r="1.9"/><circle cx="372.1" cy="98.5" r="1.9"/><circle cx="384.1" cy="98.5" r="1.9"/><circle cx="386.4" cy="98.5" r="1.9"/><circle cx="397.4" cy="98.5" r="1.9"/><circle cx="400.0" cy="98.5" r="1.9"/><circle cx="402.5" cy="98.5" r="1.9"/><circle cx="421.2" cy="98.5" r="1.9"/><circle cx="425.8" cy="98.5" r="1.9"/><circle cx="73.7" cy="108.8" r="1.9"/><circle cx="126.4" cy="108.8" r="1.9"/><circle cx="130.4" cy="108.8" r="1.9"/><circle cx="139.9" cy="108.8" r="1.9"/><circle cx="171.0" cy="108.8" r="1.9"/><circle cx="332.3" cy="108.8" r="1.9"/><circle cx="335.3" cy="108.8" r="1.9"/><circle cx="344.2" cy="108.8" r="1.9"/><circle cx="359.1" cy="108.8" r="1.9"/><circle cx="398.2" cy="108.8" r="1.9"/><circle cx="413.2" cy="108.8" r="1.9"/><circle cx="417.3" cy="108.8" r="1.9"/><circle cx="427.0" cy="108.8" r="1.9"/><circle cx="430.4" cy="108.8" r="1.9"/><circle cx="432.7" cy="108.8" r="1.9"/><circle cx="94.2" cy="118.3" r="1.9"/><circle cx="124.9" cy="118.3" r="1.9"/><circle cx="132.2" cy="118.3" r="1.9"/><circle cx="137.3" cy="118.3" r="1.9"/><circle cx="150.2" cy="118.3" r="1.9"/><circle cx="182.4" cy="118.3" r="1.9"/><circle cx="301.2" cy="118.3" r="1.9"/><circle cx="314.6" cy="118.3" r="1.9"/><circle cx="326.4" cy="118.3" r="1.9"/><circle cx="342.2" cy="118.3" r="1.9"/><circle cx="348.4" cy="118.3" r="1.9"/><circle cx="363.2" cy="118.3" r="1.9"/><circle cx="369.4" cy="118.3" r="1.9"/><circle cx="377.0" cy="118.3" r="1.9"/><circle cx="379.0" cy="118.3" r="1.9"/><circle cx="385.5" cy="118.3" r="1.9"/><circle cx="392.4" cy="118.3" r="1.9"/><circle cx="404.6" cy="118.3" r="1.9"/><circle cx="414.3" cy="118.3" r="1.9"/><circle cx="415.8" cy="118.3" r="1.9"/><circle cx="434.5" cy="118.3" r="1.9"/><circle cx="72.0" cy="126.4" r="1.9"/><circle cx="77.0" cy="126.4" r="1.9"/><circle cx="79.0" cy="126.4" r="1.9"/><circle cx="80.9" cy="126.4" r="1.9"/><circle cx="88.5" cy="126.4" r="1.9"/><circle cx="106.6" cy="126.4" r="1.9"/><circle cx="126.4" cy="126.4" r="1.9"/><circle cx="128.4" cy="126.4" r="1.9"/><circle cx="130.4" cy="126.4" r="1.9"/><circle cx="133.0" cy="126.4" r="1.9"/><circle cx="134.5" cy="126.4" r="1.9"/><circle cx="137.3" cy="126.4" r="1.9"/><circle cx="151.1" cy="126.4" r="1.9"/><circle cx="152.9" cy="126.4" r="1.9"/><circle cx="161.8" cy="126.4" r="1.9"/><circle cx="170.2" cy="126.4" r="1.9"/><circle cx="184.0" cy="126.4" r="1.9"/><circle cx="195.5" cy="126.4" r="1.9"/><circle cx="356.5" cy="126.4" r="1.9"/><circle cx="368.3" cy="126.4" r="1.9"/><circle cx="375.6" cy="126.4" r="1.9"/><circle cx="377.5" cy="126.4" r="1.9"/><circle cx="382.4" cy="126.4" r="1.9"/><circle cx="387.1" cy="126.4" r="1.9"/><circle cx="393.3" cy="126.4" r="1.9"/><circle cx="399.4" cy="126.4" r="1.9"/><circle cx="414.3" cy="126.4" r="1.9"/><circle cx="425.8" cy="126.4" r="1.9"/><circle cx="434.2" cy="126.4" r="1.9"/><circle cx="72.9" cy="134.4" r="1.9"/><circle cx="113.8" cy="134.4" r="1.9"/><circle cx="130.4" cy="134.4" r="1.9"/><circle cx="143.4" cy="134.4" r="1.9"/><circle cx="156.0" cy="134.4" r="1.9"/><circle cx="162.1" cy="134.4" r="1.9"/><circle cx="165.6" cy="134.4" r="1.9"/><circle cx="177.1" cy="134.4" r="1.9"/><circle cx="285.2" cy="134.4" r="1.9"/><circle cx="326.4" cy="134.4" r="1.9"/><circle cx="330.0" cy="134.4" r="1.9"/><circle cx="336.1" cy="134.4" r="1.9"/><circle cx="339.2" cy="134.4" r="1.9"/><circle cx="342.2" cy="134.4" r="1.9"/><circle cx="349.4" cy="134.4" r="1.9"/><circle cx="359.1" cy="134.4" r="1.9"/><circle cx="368.6" cy="134.4" r="1.9"/><circle cx="391.7" cy="134.4" r="1.9"/><circle cx="395.1" cy="134.4" r="1.9"/><circle cx="397.0" cy="134.4" r="1.9"/><circle cx="413.8" cy="134.4" r="1.9"/><circle cx="421.5" cy="134.4" r="1.9"/><circle cx="70.5" cy="141.7" r="1.9"/><circle cx="96.2" cy="141.7" r="1.9"/><circle cx="124.9" cy="141.7" r="1.9"/><circle cx="134.5" cy="141.7" r="1.9"/><circle cx="141.4" cy="141.7" r="1.9"/><circle cx="146.0" cy="141.7" r="1.9"/><circle cx="148.3" cy="141.7" r="1.9"/><circle cx="154.9" cy="141.7" r="1.9"/><circle cx="175.5" cy="141.7" r="1.9"/><circle cx="192.5" cy="141.7" r="1.9"/><circle cx="299.0" cy="141.7" r="1.9"/><circle cx="325.1" cy="141.7" r="1.9"/><circle cx="333.8" cy="141.7" r="1.9"/><circle cx="338.4" cy="141.7" r="1.9"/><circle cx="354.5" cy="141.7" r="1.9"/><circle cx="369.8" cy="141.7" r="1.9"/><circle cx="371.0" cy="141.7" r="1.9"/><circle cx="383.6" cy="141.7" r="1.9"/><circle cx="396.3" cy="141.7" r="1.9"/><circle cx="411.5" cy="141.7" r="1.9"/><circle cx="434.2" cy="141.7" r="1.9"/><circle cx="45.9" cy="148.5" r="1.9"/><circle cx="52.1" cy="148.5" r="1.9"/><circle cx="101.6" cy="148.5" r="1.9"/><circle cx="112.3" cy="148.5" r="1.9"/><circle cx="128.4" cy="148.5" r="1.9"/><circle cx="134.5" cy="148.5" r="1.9"/><circle cx="137.3" cy="148.5" r="1.9"/><circle cx="144.5" cy="148.5" r="1.9"/><circle cx="156.8" cy="148.5" r="1.9"/><circle cx="159.1" cy="148.5" r="1.9"/><circle cx="161.1" cy="148.5" r="1.9"/><circle cx="169.3" cy="148.5" r="1.9"/><circle cx="181.7" cy="148.5" r="1.9"/><circle cx="280.6" cy="148.5" r="1.9"/><circle cx="300.8" cy="148.5" r="1.9"/><circle cx="317.7" cy="148.5" r="1.9"/><circle cx="320.0" cy="148.5" r="1.9"/><circle cx="329.7" cy="148.5" r="1.9"/><circle cx="385.2" cy="148.5" r="1.9"/><circle cx="389.0" cy="148.5" r="1.9"/><circle cx="412.3" cy="148.5" r="1.9"/><circle cx="416.6" cy="148.5" r="1.9"/><circle cx="86.2" cy="155.0" r="1.9"/><circle cx="106.6" cy="155.0" r="1.9"/><circle cx="121.2" cy="155.0" r="1.9"/><circle cx="133.8" cy="155.0" r="1.9"/><circle cx="159.8" cy="155.0" r="1.9"/><circle cx="164.4" cy="155.0" r="1.9"/><circle cx="172.5" cy="155.0" r="1.9"/><circle cx="189.0" cy="155.0" r="1.9"/><circle cx="200.9" cy="155.0" r="1.9"/><circle cx="212.2" cy="155.0" r="1.9"/><circle cx="295.5" cy="155.0" r="1.9"/><circle cx="304.7" cy="155.0" r="1.9"/><circle cx="306.7" cy="155.0" r="1.9"/><circle cx="314.3" cy="155.0" r="1.9"/><circle cx="323.4" cy="155.0" r="1.9"/><circle cx="336.1" cy="155.0" r="1.9"/><circle cx="338.9" cy="155.0" r="1.9"/><circle cx="345.3" cy="155.0" r="1.9"/><circle cx="354.5" cy="155.0" r="1.9"/><circle cx="362.2" cy="155.0" r="1.9"/><circle cx="366.8" cy="155.0" r="1.9"/><circle cx="371.4" cy="155.0" r="1.9"/><circle cx="378.3" cy="155.0" r="1.9"/><circle cx="382.5" cy="155.0" r="1.9"/><circle cx="389.3" cy="155.0" r="1.9"/><circle cx="392.4" cy="155.0" r="1.9"/><circle cx="394.8" cy="155.0" r="1.9"/><circle cx="408.6" cy="155.0" r="1.9"/><circle cx="414.7" cy="155.0" r="1.9"/><circle cx="427.3" cy="155.0" r="1.9"/><circle cx="40.6" cy="160.9" r="1.9"/><circle cx="64.3" cy="160.9" r="1.9"/><circle cx="75.5" cy="160.9" r="1.9"/><circle cx="80.9" cy="160.9" r="1.9"/><circle cx="83.2" cy="160.9" r="1.9"/><circle cx="130.4" cy="160.9" r="1.9"/><circle cx="151.1" cy="160.9" r="1.9"/><circle cx="164.9" cy="160.9" r="1.9"/><circle cx="170.6" cy="160.9" r="1.9"/><circle cx="177.5" cy="160.9" r="1.9"/><circle cx="187.4" cy="160.9" r="1.9"/><circle cx="194.3" cy="160.9" r="1.9"/><circle cx="197.4" cy="160.9" r="1.9"/><circle cx="200.0" cy="160.9" r="1.9"/><circle cx="269.4" cy="160.9" r="1.9"/><circle cx="274.0" cy="160.9" r="1.9"/><circle cx="297.0" cy="160.9" r="1.9"/><circle cx="306.2" cy="160.9" r="1.9"/><circle cx="314.2" cy="160.9" r="1.9"/><circle cx="333.8" cy="160.9" r="1.9"/><circle cx="350.7" cy="160.9" r="1.9"/><circle cx="356.0" cy="160.9" r="1.9"/><circle cx="379.0" cy="160.9" r="1.9"/><circle cx="395.4" cy="160.9" r="1.9"/><circle cx="404.6" cy="160.9" r="1.9"/><circle cx="408.6" cy="160.9" r="1.9"/><circle cx="79.8" cy="166.5" r="1.9"/><circle cx="117.7" cy="166.5" r="1.9"/><circle cx="125.3" cy="166.5" r="1.9"/><circle cx="133.8" cy="166.5" r="1.9"/><circle cx="138.4" cy="166.5" r="1.9"/><circle cx="163.3" cy="166.5" r="1.9"/><circle cx="173.6" cy="166.5" r="1.9"/><circle cx="175.2" cy="166.5" r="1.9"/><circle cx="177.9" cy="166.5" r="1.9"/><circle cx="181.3" cy="166.5" r="1.9"/><circle cx="194.6" cy="166.5" r="1.9"/><circle cx="277.9" cy="166.5" r="1.9"/><circle cx="289.8" cy="166.5" r="1.9"/><circle cx="317.0" cy="166.5" r="1.9"/><circle cx="321.5" cy="166.5" r="1.9"/><circle cx="328.4" cy="166.5" r="1.9"/><circle cx="333.8" cy="166.5" r="1.9"/><circle cx="340.4" cy="166.5" r="1.9"/><circle cx="344.8" cy="166.5" r="1.9"/><circle cx="346.8" cy="166.5" r="1.9"/><circle cx="351.4" cy="166.5" r="1.9"/><circle cx="362.2" cy="166.5" r="1.9"/><circle cx="368.8" cy="166.5" r="1.9"/><circle cx="371.4" cy="166.5" r="1.9"/><circle cx="386.2" cy="166.5" r="1.9"/><circle cx="391.3" cy="166.5" r="1.9"/><circle cx="416.3" cy="166.5" r="1.9"/><circle cx="434.7" cy="166.5" r="1.9"/><circle cx="36.9" cy="171.9" r="1.9"/><circle cx="93.6" cy="171.9" r="1.9"/><circle cx="117.7" cy="171.9" r="1.9"/><circle cx="130.4" cy="171.9" r="1.9"/><circle cx="145.3" cy="171.9" r="1.9"/><circle cx="147.6" cy="171.9" r="1.9"/><circle cx="149.9" cy="171.9" r="1.9"/><circle cx="152.2" cy="171.9" r="1.9"/><circle cx="153.7" cy="171.9" r="1.9"/><circle cx="159.1" cy="171.9" r="1.9"/><circle cx="161.4" cy="171.9" r="1.9"/><circle cx="167.5" cy="171.9" r="1.9"/><circle cx="169.8" cy="171.9" r="1.9"/><circle cx="179.0" cy="171.9" r="1.9"/><circle cx="181.7" cy="171.9" r="1.9"/><circle cx="293.2" cy="171.9" r="1.9"/><circle cx="300.1" cy="171.9" r="1.9"/><circle cx="321.2" cy="171.9" r="1.9"/><circle cx="325.1" cy="171.9" r="1.9"/><circle cx="335.8" cy="171.9" r="1.9"/><circle cx="346.1" cy="171.9" r="1.9"/><circle cx="348.4" cy="171.9" r="1.9"/><circle cx="350.7" cy="171.9" r="1.9"/><circle cx="353.0" cy="171.9" r="1.9"/><circle cx="355.3" cy="171.9" r="1.9"/><circle cx="361.1" cy="171.9" r="1.9"/><circle cx="382.9" cy="171.9" r="1.9"/><circle cx="409.2" cy="171.9" r="1.9"/><circle cx="72.5" cy="177.1" r="1.9"/><circle cx="95.4" cy="177.1" r="1.9"/><circle cx="121.0" cy="177.1" r="1.9"/><circle cx="126.1" cy="177.1" r="1.9"/><circle cx="139.2" cy="177.1" r="1.9"/><circle cx="143.1" cy="177.1" r="1.9"/><circle cx="147.3" cy="177.1" r="1.9"/><circle cx="153.5" cy="177.1" r="1.9"/><circle cx="163.2" cy="177.1" r="1.9"/><circle cx="168.2" cy="177.1" r="1.9"/><circle cx="170.2" cy="177.1" r="1.9"/><circle cx="172.1" cy="177.1" r="1.9"/><circle cx="174.0" cy="177.1" r="1.9"/><circle cx="186.8" cy="177.1" r="1.9"/><circle cx="189.1" cy="177.1" r="1.9"/><circle cx="191.0" cy="177.1" r="1.9"/><circle cx="195.3" cy="177.1" r="1.9"/><circle cx="273.5" cy="177.1" r="1.9"/><circle cx="278.5" cy="177.1" r="1.9"/><circle cx="294.0" cy="177.1" r="1.9"/><circle cx="302.9" cy="177.1" r="1.9"/><circle cx="312.5" cy="177.1" r="1.9"/><circle cx="315.6" cy="177.1" r="1.9"/><circle cx="321.8" cy="177.1" r="1.9"/><circle cx="324.9" cy="177.1" r="1.9"/><circle cx="328.0" cy="177.1" r="1.9"/><circle cx="332.7" cy="177.1" r="1.9"/><circle cx="342.1" cy="177.1" r="1.9"/><circle cx="353.6" cy="177.1" r="1.9"/><circle cx="355.1" cy="177.1" r="1.9"/><circle cx="358.9" cy="177.1" r="1.9"/><circle cx="377.6" cy="177.1" r="1.9"/><circle cx="389.6" cy="177.1" r="1.9"/><circle cx="398.0" cy="177.1" r="1.9"/><circle cx="76.3" cy="182.0" r="1.9"/><circle cx="88.5" cy="182.0" r="1.9"/><circle cx="108.5" cy="182.0" r="1.9"/><circle cx="122.3" cy="182.0" r="1.9"/><circle cx="123.3" cy="182.0" r="1.9"/><circle cx="139.2" cy="182.0" r="1.9"/><circle cx="141.1" cy="182.0" r="1.9"/><circle cx="142.3" cy="182.0" r="1.9"/><circle cx="146.5" cy="182.0" r="1.9"/><circle cx="148.5" cy="182.0" r="1.9"/><circle cx="149.6" cy="182.0" r="1.9"/><circle cx="164.0" cy="182.0" r="1.9"/><circle cx="165.9" cy="182.0" r="1.9"/><circle cx="167.8" cy="182.0" r="1.9"/><circle cx="169.8" cy="182.0" r="1.9"/><circle cx="171.7" cy="182.0" r="1.9"/><circle cx="175.6" cy="182.0" r="1.9"/><circle cx="177.1" cy="182.0" r="1.9"/><circle cx="179.0" cy="182.0" r="1.9"/><circle cx="184.9" cy="182.0" r="1.9"/><circle cx="186.8" cy="182.0" r="1.9"/><circle cx="188.3" cy="182.0" r="1.9"/><circle cx="189.9" cy="182.0" r="1.9"/><circle cx="191.4" cy="182.0" r="1.9"/><circle cx="195.3" cy="182.0" r="1.9"/><circle cx="203.8" cy="182.0" r="1.9"/><circle cx="208.1" cy="182.0" r="1.9"/><circle cx="210.0" cy="182.0" r="1.9"/><circle cx="211.9" cy="182.0" r="1.9"/><circle cx="215.3" cy="182.0" r="1.9"/><circle cx="268.8" cy="182.0" r="1.9"/><circle cx="290.1" cy="182.0" r="1.9"/><circle cx="297.4" cy="182.0" r="1.9"/><circle cx="303.3" cy="182.0" r="1.9"/><circle cx="305.6" cy="182.0" r="1.9"/><circle cx="310.6" cy="182.0" r="1.9"/><circle cx="313.3" cy="182.0" r="1.9"/><circle cx="336.1" cy="182.0" r="1.9"/><circle cx="338.9" cy="182.0" r="1.9"/><circle cx="339.8" cy="182.0" r="1.9"/><circle cx="345.1" cy="182.0" r="1.9"/><circle cx="363.5" cy="182.0" r="1.9"/><circle cx="365.8" cy="182.0" r="1.9"/><circle cx="377.0" cy="182.0" r="1.9"/><circle cx="395.0" cy="182.0" r="1.9"/><circle cx="404.1" cy="182.0" r="1.9"/><circle cx="406.4" cy="182.0" r="1.9"/><circle cx="67.5" cy="186.6" r="1.9"/><circle cx="104.3" cy="186.6" r="1.9"/><circle cx="127.6" cy="186.6" r="1.9"/><circle cx="129.5" cy="186.6" r="1.9"/><circle cx="138.4" cy="186.6" r="1.9"/><circle cx="142.7" cy="186.6" r="1.9"/><circle cx="144.6" cy="186.6" r="1.9"/><circle cx="155.4" cy="186.6" r="1.9"/><circle cx="159.7" cy="186.6" r="1.9"/><circle cx="161.2" cy="186.6" r="1.9"/><circle cx="167.1" cy="186.6" r="1.9"/><circle cx="172.5" cy="186.6" r="1.9"/><circle cx="176.0" cy="186.6" r="1.9"/><circle cx="177.9" cy="186.6" r="1.9"/><circle cx="179.8" cy="186.6" r="1.9"/><circle cx="184.5" cy="186.6" r="1.9"/><circle cx="187.2" cy="186.6" r="1.9"/><circle cx="193.0" cy="186.6" r="1.9"/><circle cx="198.8" cy="186.6" r="1.9"/><circle cx="203.0" cy="186.6" r="1.9"/><circle cx="205.0" cy="186.6" r="1.9"/><circle cx="206.9" cy="186.6" r="1.9"/><circle cx="208.1" cy="186.6" r="1.9"/><circle cx="250.3" cy="186.6" r="1.9"/><circle cx="282.0" cy="186.6" r="1.9"/><circle cx="298.2" cy="186.6" r="1.9"/><circle cx="302.1" cy="186.6" r="1.9"/><circle cx="309.4" cy="186.6" r="1.9"/><circle cx="314.5" cy="186.6" r="1.9"/><circle cx="320.3" cy="186.6" r="1.9"/><circle cx="322.2" cy="186.6" r="1.9"/><circle cx="324.9" cy="186.6" r="1.9"/><circle cx="328.0" cy="186.6" r="1.9"/><circle cx="330.3" cy="186.6" r="1.9"/><circle cx="337.7" cy="186.6" r="1.9"/><circle cx="347.4" cy="186.6" r="1.9"/><circle cx="351.3" cy="186.6" r="1.9"/><circle cx="354.8" cy="186.6" r="1.9"/><circle cx="366.6" cy="186.6" r="1.9"/><circle cx="378.1" cy="186.6" r="1.9"/><circle cx="388.0" cy="186.6" r="1.9"/><circle cx="394.2" cy="186.6" r="1.9"/><circle cx="400.8" cy="186.6" r="1.9"/><circle cx="417.6" cy="186.6" r="1.9"/><circle cx="422.5" cy="186.6" r="1.9"/><circle cx="69.4" cy="191.0" r="1.9"/><circle cx="92.4" cy="191.0" r="1.9"/><circle cx="119.2" cy="191.0" r="1.9"/><circle cx="123.3" cy="191.0" r="1.9"/><circle cx="132.2" cy="191.0" r="1.9"/><circle cx="133.0" cy="191.0" r="1.9"/><circle cx="146.5" cy="191.0" r="1.9"/><circle cx="148.5" cy="191.0" r="1.9"/><circle cx="150.0" cy="191.0" r="1.9"/><circle cx="153.1" cy="191.0" r="1.9"/><circle cx="158.9" cy="191.0" r="1.9"/><circle cx="160.5" cy="191.0" r="1.9"/><circle cx="170.5" cy="191.0" r="1.9"/><circle cx="172.5" cy="191.0" r="1.9"/><circle cx="174.0" cy="191.0" r="1.9"/><circle cx="184.5" cy="191.0" r="1.9"/><circle cx="186.8" cy="191.0" r="1.9"/><circle cx="191.4" cy="191.0" r="1.9"/><circle cx="198.4" cy="191.0" r="1.9"/><circle cx="207.7" cy="191.0" r="1.9"/><circle cx="210.0" cy="191.0" r="1.9"/><circle cx="249.1" cy="191.0" r="1.9"/><circle cx="264.2" cy="191.0" r="1.9"/><circle cx="286.6" cy="191.0" r="1.9"/><circle cx="287.8" cy="191.0" r="1.9"/><circle cx="290.1" cy="191.0" r="1.9"/><circle cx="295.1" cy="191.0" r="1.9"/><circle cx="297.1" cy="191.0" r="1.9"/><circle cx="299.8" cy="191.0" r="1.9"/><circle cx="302.1" cy="191.0" r="1.9"/><circle cx="303.6" cy="191.0" r="1.9"/><circle cx="316.4" cy="191.0" r="1.9"/><circle cx="331.1" cy="191.0" r="1.9"/><circle cx="335.4" cy="191.0" r="1.9"/><circle cx="344.4" cy="191.0" r="1.9"/><circle cx="346.7" cy="191.0" r="1.9"/><circle cx="349.0" cy="191.0" r="1.9"/><circle cx="353.6" cy="191.0" r="1.9"/><circle cx="365.1" cy="191.0" r="1.9"/><circle cx="367.4" cy="191.0" r="1.9"/><circle cx="375.3" cy="191.0" r="1.9"/><circle cx="381.6" cy="191.0" r="1.9"/><circle cx="429.4" cy="191.0" r="1.9"/><circle cx="433.0" cy="191.0" r="1.9"/><circle cx="119.7" cy="195.2" r="1.9"/><circle cx="122.7" cy="195.2" r="1.9"/><circle cx="125.3" cy="195.2" r="1.9"/><circle cx="132.2" cy="195.2" r="1.9"/><circle cx="154.7" cy="195.2" r="1.9"/><circle cx="159.3" cy="195.2" r="1.9"/><circle cx="160.9" cy="195.2" r="1.9"/><circle cx="165.9" cy="195.2" r="1.9"/><circle cx="175.6" cy="195.2" r="1.9"/><circle cx="181.0" cy="195.2" r="1.9"/><circle cx="184.9" cy="195.2" r="1.9"/><circle cx="186.8" cy="195.2" r="1.9"/><circle cx="191.4" cy="195.2" r="1.9"/><circle cx="193.4" cy="195.2" r="1.9"/><circle cx="195.3" cy="195.2" r="1.9"/><circle cx="197.2" cy="195.2" r="1.9"/><circle cx="202.6" cy="195.2" r="1.9"/><circle cx="204.6" cy="195.2" r="1.9"/><circle cx="206.5" cy="195.2" r="1.9"/><circle cx="208.4" cy="195.2" r="1.9"/><circle cx="210.4" cy="195.2" r="1.9"/><circle cx="267.7" cy="195.2" r="1.9"/><circle cx="272.3" cy="195.2" r="1.9"/><circle cx="276.6" cy="195.2" r="1.9"/><circle cx="278.1" cy="195.2" r="1.9"/><circle cx="285.5" cy="195.2" r="1.9"/><circle cx="292.0" cy="195.2" r="1.9"/><circle cx="294.4" cy="195.2" r="1.9"/><circle cx="298.2" cy="195.2" r="1.9"/><circle cx="300.5" cy="195.2" r="1.9"/><circle cx="302.9" cy="195.2" r="1.9"/><circle cx="306.0" cy="195.2" r="1.9"/><circle cx="310.2" cy="195.2" r="1.9"/><circle cx="312.5" cy="195.2" r="1.9"/><circle cx="314.9" cy="195.2" r="1.9"/><circle cx="317.6" cy="195.2" r="1.9"/><circle cx="322.2" cy="195.2" r="1.9"/><circle cx="335.8" cy="195.2" r="1.9"/><circle cx="342.4" cy="195.2" r="1.9"/><circle cx="347.4" cy="195.2" r="1.9"/><circle cx="360.9" cy="195.2" r="1.9"/><circle cx="391.6" cy="195.2" r="1.9"/><circle cx="406.9" cy="195.2" r="1.9"/><circle cx="421.5" cy="195.2" r="1.9"/><circle cx="64.0" cy="199.2" r="1.9"/><circle cx="66.0" cy="199.2" r="1.9"/><circle cx="72.8" cy="199.2" r="1.9"/><circle cx="77.4" cy="199.2" r="1.9"/><circle cx="101.3" cy="199.2" r="1.9"/><circle cx="113.8" cy="199.2" r="1.9"/><circle cx="132.2" cy="199.2" r="1.9"/><circle cx="133.0" cy="199.2" r="1.9"/><circle cx="138.4" cy="199.2" r="1.9"/><circle cx="142.7" cy="199.2" r="1.9"/><circle cx="144.6" cy="199.2" r="1.9"/><circle cx="146.5" cy="199.2" r="1.9"/><circle cx="153.5" cy="199.2" r="1.9"/><circle cx="155.1" cy="199.2" r="1.9"/><circle cx="158.5" cy="199.2" r="1.9"/><circle cx="160.1" cy="199.2" r="1.9"/><circle cx="163.6" cy="199.2" r="1.9"/><circle cx="171.3" cy="199.2" r="1.9"/><circle cx="173.2" cy="199.2" r="1.9"/><circle cx="184.1" cy="199.2" r="1.9"/><circle cx="186.8" cy="199.2" r="1.9"/><circle cx="188.7" cy="199.2" r="1.9"/><circle cx="190.6" cy="199.2" r="1.9"/><circle cx="192.6" cy="199.2" r="1.9"/><circle cx="194.5" cy="199.2" r="1.9"/><circle cx="196.4" cy="199.2" r="1.9"/><circle cx="198.4" cy="199.2" r="1.9"/><circle cx="200.3" cy="199.2" r="1.9"/><circle cx="202.3" cy="199.2" r="1.9"/><circle cx="206.9" cy="199.2" r="1.9"/><circle cx="215.3" cy="199.2" r="1.9"/><circle cx="221.6" cy="199.2" r="1.9"/><circle cx="246.0" cy="199.2" r="1.9"/><circle cx="268.8" cy="199.2" r="1.9"/><circle cx="273.5" cy="199.2" r="1.9"/><circle cx="276.6" cy="199.2" r="1.9"/><circle cx="282.8" cy="199.2" r="1.9"/><circle cx="285.9" cy="199.2" r="1.9"/><circle cx="288.5" cy="199.2" r="1.9"/><circle cx="290.9" cy="199.2" r="1.9"/><circle cx="299.8" cy="199.2" r="1.9"/><circle cx="307.5" cy="199.2" r="1.9"/><circle cx="315.3" cy="199.2" r="1.9"/><circle cx="320.3" cy="199.2" r="1.9"/><circle cx="339.2" cy="199.2" r="1.9"/><circle cx="339.8" cy="199.2" r="1.9"/><circle cx="348.5" cy="199.2" r="1.9"/><circle cx="368.9" cy="199.2" r="1.9"/><circle cx="371.2" cy="199.2" r="1.9"/><circle cx="378.1" cy="199.2" r="1.9"/><circle cx="379.6" cy="199.2" r="1.9"/><circle cx="402.3" cy="199.2" r="1.9"/><circle cx="78.6" cy="203.0" r="1.9"/><circle cx="85.2" cy="203.0" r="1.9"/><circle cx="113.1" cy="203.0" r="1.9"/><circle cx="125.3" cy="203.0" r="1.9"/><circle cx="141.5" cy="203.0" r="1.9"/><circle cx="152.0" cy="203.0" r="1.9"/><circle cx="153.9" cy="203.0" r="1.9"/><circle cx="164.0" cy="203.0" r="1.9"/><circle cx="167.8" cy="203.0" r="1.9"/><circle cx="169.4" cy="203.0" r="1.9"/><circle cx="170.9" cy="203.0" r="1.9"/><circle cx="172.5" cy="203.0" r="1.9"/><circle cx="174.4" cy="203.0" r="1.9"/><circle cx="176.3" cy="203.0" r="1.9"/><circle cx="177.9" cy="203.0" r="1.9"/><circle cx="182.1" cy="203.0" r="1.9"/><circle cx="186.8" cy="203.0" r="1.9"/><circle cx="191.4" cy="203.0" r="1.9"/><circle cx="193.4" cy="203.0" r="1.9"/><circle cx="195.3" cy="203.0" r="1.9"/><circle cx="197.2" cy="203.0" r="1.9"/><circle cx="199.2" cy="203.0" r="1.9"/><circle cx="201.1" cy="203.0" r="1.9"/><circle cx="203.0" cy="203.0" r="1.9"/><circle cx="208.1" cy="203.0" r="1.9"/><circle cx="210.0" cy="203.0" r="1.9"/><circle cx="214.3" cy="203.0" r="1.9"/><circle cx="263.4" cy="203.0" r="1.9"/><circle cx="265.3" cy="203.0" r="1.9"/><circle cx="267.3" cy="203.0" r="1.9"/><circle cx="269.2" cy="203.0" r="1.9"/><circle cx="272.3" cy="203.0" r="1.9"/><circle cx="274.6" cy="203.0" r="1.9"/><circle cx="278.1" cy="203.0" r="1.9"/><circle cx="282.0" cy="203.0" r="1.9"/><circle cx="286.6" cy="203.0" r="1.9"/><circle cx="287.0" cy="203.0" r="1.9"/><circle cx="297.1" cy="203.0" r="1.9"/><circle cx="298.6" cy="203.0" r="1.9"/><circle cx="307.9" cy="203.0" r="1.9"/><circle cx="311.8" cy="203.0" r="1.9"/><circle cx="315.6" cy="203.0" r="1.9"/><circle cx="318.0" cy="203.0" r="1.9"/><circle cx="320.3" cy="203.0" r="1.9"/><circle cx="331.1" cy="203.0" r="1.9"/><circle cx="338.1" cy="203.0" r="1.9"/><circle cx="346.4" cy="203.0" r="1.9"/><circle cx="362.0" cy="203.0" r="1.9"/><circle cx="366.3" cy="203.0" r="1.9"/><circle cx="388.8" cy="203.0" r="1.9"/><circle cx="30.9" cy="206.5" r="1.9"/><circle cx="58.7" cy="206.5" r="1.9"/><circle cx="66.3" cy="206.5" r="1.9"/><circle cx="74.4" cy="206.5" r="1.9"/><circle cx="82.4" cy="206.5" r="1.9"/><circle cx="98.8" cy="206.5" r="1.9"/><circle cx="113.1" cy="206.5" r="1.9"/><circle cx="115.1" cy="206.5" r="1.9"/><circle cx="139.6" cy="206.5" r="1.9"/><circle cx="148.1" cy="206.5" r="1.9"/><circle cx="161.2" cy="206.5" r="1.9"/><circle cx="168.2" cy="206.5" r="1.9"/><circle cx="172.5" cy="206.5" r="1.9"/><circle cx="175.2" cy="206.5" r="1.9"/><circle cx="183.3" cy="206.5" r="1.9"/><circle cx="184.9" cy="206.5" r="1.9"/><circle cx="187.2" cy="206.5" r="1.9"/><circle cx="189.5" cy="206.5" r="1.9"/><circle cx="191.4" cy="206.5" r="1.9"/><circle cx="197.6" cy="206.5" r="1.9"/><circle cx="199.5" cy="206.5" r="1.9"/><circle cx="201.5" cy="206.5" r="1.9"/><circle cx="203.4" cy="206.5" r="1.9"/><circle cx="205.4" cy="206.5" r="1.9"/><circle cx="207.3" cy="206.5" r="1.9"/><circle cx="209.2" cy="206.5" r="1.9"/><circle cx="215.8" cy="206.5" r="1.9"/><circle cx="221.2" cy="206.5" r="1.9"/><circle cx="245.6" cy="206.5" r="1.9"/><circle cx="253.7" cy="206.5" r="1.9"/><circle cx="263.4" cy="206.5" r="1.9"/><circle cx="268.1" cy="206.5" r="1.9"/><circle cx="275.8" cy="206.5" r="1.9"/><circle cx="297.1" cy="206.5" r="1.9"/><circle cx="307.9" cy="206.5" r="1.9"/><circle cx="309.8" cy="206.5" r="1.9"/><circle cx="314.9" cy="206.5" r="1.9"/><circle cx="316.8" cy="206.5" r="1.9"/><circle cx="322.2" cy="206.5" r="1.9"/><circle cx="328.8" cy="206.5" r="1.9"/><circle cx="337.3" cy="206.5" r="1.9"/><circle cx="353.3" cy="206.5" r="1.9"/><circle cx="388.0" cy="206.5" r="1.9"/><circle cx="393.7" cy="206.5" r="1.9"/><circle cx="141.1" cy="210.0" r="1.9"/><circle cx="153.9" cy="210.0" r="1.9"/><circle cx="159.3" cy="210.0" r="1.9"/><circle cx="161.6" cy="210.0" r="1.9"/><circle cx="170.9" cy="210.0" r="1.9"/><circle cx="177.9" cy="210.0" r="1.9"/><circle cx="181.0" cy="210.0" r="1.9"/><circle cx="184.1" cy="210.0" r="1.9"/><circle cx="188.3" cy="210.0" r="1.9"/><circle cx="191.0" cy="210.0" r="1.9"/><circle cx="194.0" cy="210.0" r="1.9"/><circle cx="197.0" cy="210.0" r="1.9"/><circle cx="200.0" cy="210.0" r="1.9"/><circle cx="203.0" cy="210.0" r="1.9"/><circle cx="206.0" cy="210.0" r="1.9"/><circle cx="209.2" cy="210.0" r="1.9"/><circle cx="212.3" cy="210.0" r="1.9"/><circle cx="214.5" cy="210.0" r="1.9"/><circle cx="216.2" cy="210.0" r="1.9"/><circle cx="245.6" cy="210.0" r="1.9"/><circle cx="261.5" cy="210.0" r="1.9"/><circle cx="269.6" cy="210.0" r="1.9"/><circle cx="273.5" cy="210.0" r="1.9"/><circle cx="285.0" cy="210.0" r="1.9"/><circle cx="287.8" cy="210.0" r="1.9"/><circle cx="294.7" cy="210.0" r="1.9"/><circle cx="297.1" cy="210.0" r="1.9"/><circle cx="299.4" cy="210.0" r="1.9"/><circle cx="301.7" cy="210.0" r="1.9"/><circle cx="307.1" cy="210.0" r="1.9"/><circle cx="316.4" cy="210.0" r="1.9"/><circle cx="320.3" cy="210.0" r="1.9"/><circle cx="322.2" cy="210.0" r="1.9"/><circle cx="326.5" cy="210.0" r="1.9"/><circle cx="329.2" cy="210.0" r="1.9"/><circle cx="336.1" cy="210.0" r="1.9"/><circle cx="342.4" cy="210.0" r="1.9"/><circle cx="100.0" cy="213.1" r="1.9"/><circle cx="116.6" cy="213.1" r="1.9"/><circle cx="126.1" cy="213.1" r="1.9"/><circle cx="145.8" cy="213.1" r="1.9"/><circle cx="150.4" cy="213.1" r="1.9"/><circle cx="157.0" cy="213.1" r="1.9"/><circle cx="169.4" cy="213.1" r="1.9"/><circle cx="173.2" cy="213.1" r="1.9"/><circle cx="179.4" cy="213.1" r="1.9"/><circle cx="183.3" cy="213.1" r="1.9"/><circle cx="223.9" cy="213.1" r="1.9"/><circle cx="237.1" cy="213.1" r="1.9"/><circle cx="253.7" cy="213.1" r="1.9"/><circle cx="258.4" cy="213.1" r="1.9"/><circle cx="263.4" cy="213.1" r="1.9"/><circle cx="267.3" cy="213.1" r="1.9"/><circle cx="278.9" cy="213.1" r="1.9"/><circle cx="282.0" cy="213.1" r="1.9"/><circle cx="284.3" cy="213.1" r="1.9"/><circle cx="287.8" cy="213.1" r="1.9"/><circle cx="290.1" cy="213.1" r="1.9"/><circle cx="292.4" cy="213.1" r="1.9"/><circle cx="294.7" cy="213.1" r="1.9"/><circle cx="296.7" cy="213.1" r="1.9"/><circle cx="320.7" cy="213.1" r="1.9"/><circle cx="329.2" cy="213.1" r="1.9"/><circle cx="341.3" cy="213.1" r="1.9"/><circle cx="380.4" cy="213.1" r="1.9"/><circle cx="100.0" cy="216.3" r="1.9"/><circle cx="105.9" cy="216.3" r="1.9"/><circle cx="126.9" cy="216.3" r="1.9"/><circle cx="128.9" cy="216.3" r="1.9"/><circle cx="142.3" cy="216.3" r="1.9"/><circle cx="160.5" cy="216.3" r="1.9"/><circle cx="171.7" cy="216.3" r="1.9"/><circle cx="178.7" cy="216.3" r="1.9"/><circle cx="182.5" cy="216.3" r="1.9"/><circle cx="184.9" cy="216.3" r="1.9"/><circle cx="262.6" cy="216.3" r="1.9"/><circle cx="265.0" cy="216.3" r="1.9"/><circle cx="272.7" cy="216.3" r="1.9"/><circle cx="280.4" cy="216.3" r="1.9"/><circle cx="282.8" cy="216.3" r="1.9"/><circle cx="287.4" cy="216.3" r="1.9"/><circle cx="299.8" cy="216.3" r="1.9"/><circle cx="302.1" cy="216.3" r="1.9"/><circle cx="304.4" cy="216.3" r="1.9"/><circle cx="306.7" cy="216.3" r="1.9"/><circle cx="309.1" cy="216.3" r="1.9"/><circle cx="312.9" cy="216.3" r="1.9"/><circle cx="375.8" cy="216.3" r="1.9"/><circle cx="78.6" cy="219.1" r="1.9"/><circle cx="129.9" cy="219.1" r="1.9"/><circle cx="139.2" cy="219.1" r="1.9"/><circle cx="141.5" cy="219.1" r="1.9"/><circle cx="145.8" cy="219.1" r="1.9"/><circle cx="152.4" cy="219.1" r="1.9"/><circle cx="159.7" cy="219.1" r="1.9"/><circle cx="162.0" cy="219.1" r="1.9"/><circle cx="164.3" cy="219.1" r="1.9"/><circle cx="171.3" cy="219.1" r="1.9"/><circle cx="175.2" cy="219.1" r="1.9"/><circle cx="179.4" cy="219.1" r="1.9"/><circle cx="183.3" cy="219.1" r="1.9"/><circle cx="185.2" cy="219.1" r="1.9"/><circle cx="250.6" cy="219.1" r="1.9"/><circle cx="258.8" cy="219.1" r="1.9"/><circle cx="287.8" cy="219.1" r="1.9"/><circle cx="290.5" cy="219.1" r="1.9"/><circle cx="294.4" cy="219.1" r="1.9"/><circle cx="300.5" cy="219.1" r="1.9"/><circle cx="310.2" cy="219.1" r="1.9"/><circle cx="313.7" cy="219.1" r="1.9"/><circle cx="320.3" cy="219.1" r="1.9"/><circle cx="326.1" cy="219.1" r="1.9"/><circle cx="333.8" cy="219.1" r="1.9"/><circle cx="367.4" cy="219.1" r="1.9"/><circle cx="401.8" cy="219.1" r="1.9"/><circle cx="136.9" cy="221.7" r="1.9"/><circle cx="169.4" cy="221.7" r="1.9"/><circle cx="181.8" cy="221.7" r="1.9"/><circle cx="184.9" cy="221.7" r="1.9"/><circle cx="242.9" cy="221.7" r="1.9"/><circle cx="248.3" cy="221.7" r="1.9"/><circle cx="287.8" cy="221.7" r="1.9"/><circle cx="290.9" cy="221.7" r="1.9"/><circle cx="293.6" cy="221.7" r="1.9"/><circle cx="297.8" cy="221.7" r="1.9"/><circle cx="305.6" cy="221.7" r="1.9"/><circle cx="311.8" cy="221.7" r="1.9"/><circle cx="315.6" cy="221.7" r="1.9"/><circle cx="318.0" cy="221.7" r="1.9"/><circle cx="320.7" cy="221.7" r="1.9"/><circle cx="327.2" cy="221.7" r="1.9"/><circle cx="332.3" cy="221.7" r="1.9"/><circle cx="342.8" cy="221.7" r="1.9"/><circle cx="357.7" cy="221.7" r="1.9"/><circle cx="376.6" cy="221.7" r="1.9"/><circle cx="81.3" cy="224.5" r="1.9"/><circle cx="103.1" cy="224.5" r="1.9"/><circle cx="130.4" cy="224.5" r="1.9"/><circle cx="137.6" cy="224.5" r="1.9"/><circle cx="150.4" cy="224.5" r="1.9"/><circle cx="158.2" cy="224.5" r="1.9"/><circle cx="162.0" cy="224.5" r="1.9"/><circle cx="181.8" cy="224.5" r="1.9"/><circle cx="287.8" cy="224.5" r="1.9"/><circle cx="290.9" cy="224.5" r="1.9"/><circle cx="294.0" cy="224.5" r="1.9"/><circle cx="308.3" cy="224.5" r="1.9"/><circle cx="323.4" cy="224.5" r="1.9"/><circle cx="358.2" cy="224.5" r="1.9"/><circle cx="365.1" cy="224.5" r="1.9"/><circle cx="122.7" cy="227.0" r="1.9"/><circle cx="134.5" cy="227.0" r="1.9"/><circle cx="143.1" cy="227.0" r="1.9"/><circle cx="147.3" cy="227.0" r="1.9"/><circle cx="162.8" cy="227.0" r="1.9"/><circle cx="174.4" cy="227.0" r="1.9"/><circle cx="183.3" cy="227.0" r="1.9"/><circle cx="287.8" cy="227.0" r="1.9"/><circle cx="297.1" cy="227.0" r="1.9"/><circle cx="299.4" cy="227.0" r="1.9"/><circle cx="303.6" cy="227.0" r="1.9"/><circle cx="307.5" cy="227.0" r="1.9"/><circle cx="310.2" cy="227.0" r="1.9"/><circle cx="312.9" cy="227.0" r="1.9"/><circle cx="319.9" cy="227.0" r="1.9"/><circle cx="323.8" cy="227.0" r="1.9"/><circle cx="109.7" cy="229.5" r="1.9"/><circle cx="133.0" cy="229.5" r="1.9"/><circle cx="133.8" cy="229.5" r="1.9"/><circle cx="148.1" cy="229.5" r="1.9"/><circle cx="163.2" cy="229.5" r="1.9"/><circle cx="165.5" cy="229.5" r="1.9"/><circle cx="168.2" cy="229.5" r="1.9"/><circle cx="177.9" cy="229.5" r="1.9"/><circle cx="181.0" cy="229.5" r="1.9"/><circle cx="184.1" cy="229.5" r="1.9"/><circle cx="287.8" cy="229.5" r="1.9"/><circle cx="297.8" cy="229.5" r="1.9"/><circle cx="318.0" cy="229.5" r="1.9"/><circle cx="325.7" cy="229.5" r="1.9"/><circle cx="329.6" cy="229.5" r="1.9"/><circle cx="357.4" cy="229.5" r="1.9"/><circle cx="66.3" cy="231.6" r="1.9"/><circle cx="157.4" cy="231.6" r="1.9"/><circle cx="179.0" cy="231.6" r="1.9"/><circle cx="297.1" cy="231.6" r="1.9"/><circle cx="307.9" cy="231.6" r="1.9"/><circle cx="309.8" cy="231.6" r="1.9"/><circle cx="320.7" cy="231.6" r="1.9"/><circle cx="323.0" cy="231.6" r="1.9"/><circle cx="336.1" cy="231.6" r="1.9"/><circle cx="369.7" cy="231.6" r="1.9"/><circle cx="79.7" cy="233.7" r="1.9"/><circle cx="115.8" cy="233.7" r="1.9"/><circle cx="150.8" cy="233.7" r="1.9"/><circle cx="160.1" cy="233.7" r="1.9"/><circle cx="165.5" cy="233.7" r="1.9"/><circle cx="171.3" cy="233.7" r="1.9"/><circle cx="178.7" cy="233.7" r="1.9"/><circle cx="183.3" cy="233.7" r="1.9"/><circle cx="297.8" cy="233.7" r="1.9"/><circle cx="335.4" cy="233.7" r="1.9"/><circle cx="351.3" cy="233.7" r="1.9"/><circle cx="157.4" cy="236.0" r="1.9"/><circle cx="177.9" cy="236.0" r="1.9"/><circle cx="184.1" cy="236.0" r="1.9"/><circle cx="292.8" cy="236.0" r="1.9"/><circle cx="301.3" cy="236.0" r="1.9"/><circle cx="305.6" cy="236.0" r="1.9"/><circle cx="325.7" cy="236.0" r="1.9"/><circle cx="339.2" cy="236.0" r="1.9"/><circle cx="54.8" cy="237.6" r="1.9"/><circle cx="109.2" cy="237.6" r="1.9"/><circle cx="65.1" cy="237.6" r="1.9"/><circle cx="112.0" cy="237.6" r="1.9"/><circle cx="137.5" cy="237.6" r="1.9"/><circle cx="168.2" cy="237.6" r="1.9"/><circle cx="176.0" cy="237.6" r="1.9"/><circle cx="290.1" cy="237.6" r="1.9"/><circle cx="301.0" cy="237.6" r="1.9"/><circle cx="314.1" cy="237.6" r="1.9"/><circle cx="389.6" cy="237.6" r="1.9"/><circle cx="411.3" cy="237.6" r="1.9"/><circle cx="88.5" cy="239.1" r="1.9"/><circle cx="155.1" cy="239.1" r="1.9"/><circle cx="177.9" cy="239.1" r="1.9"/><circle cx="181.0" cy="239.1" r="1.9"/><circle cx="313.3" cy="239.1" r="1.9"/><circle cx="340.2" cy="239.1" r="1.9"/><circle cx="341.8" cy="239.1" r="1.9"/><circle cx="122.7" cy="241.0" r="1.9"/><circle cx="160.5" cy="241.0" r="1.9"/><circle cx="165.5" cy="241.0" r="1.9"/><circle cx="172.5" cy="241.0" r="1.9"/><circle cx="181.0" cy="241.0" r="1.9"/><circle cx="184.1" cy="241.0" r="1.9"/><circle cx="157.4" cy="242.5" r="1.9"/><circle cx="182.5" cy="242.5" r="1.9"/><circle cx="294.4" cy="242.5" r="1.9"/><circle cx="297.4" cy="242.5" r="1.9"/><circle cx="190.5" cy="215.7" r="1.9"/><circle cx="193.3" cy="215.2" r="1.9"/><circle cx="196.6" cy="215.7" r="1.9"/><circle cx="198.7" cy="214.9" r="1.9"/><circle cx="202.2" cy="214.5" r="1.9"/><circle cx="203.8" cy="214.7" r="1.9"/><circle cx="290.7" cy="215.5" r="1.9"/><circle cx="190.5" cy="216.9" r="1.9"/><circle cx="193.0" cy="217.3" r="1.9"/><circle cx="199.6" cy="218.4" r="1.9"/><circle cx="201.1" cy="217.3" r="1.9"/><circle cx="203.7" cy="217.9" r="1.9"/><circle cx="207.4" cy="217.7" r="1.9"/><circle cx="210.1" cy="217.0" r="1.9"/><circle cx="213.0" cy="218.2" r="1.9"/><circle cx="215.0" cy="217.2" r="1.9"/><circle cx="288.0" cy="217.4" r="1.9"/><circle cx="290.7" cy="218.2" r="1.9"/><circle cx="293.4" cy="217.3" r="1.9"/><circle cx="188.7" cy="220.2" r="1.9"/><circle cx="190.7" cy="220.3" r="1.9"/><circle cx="193.3" cy="220.4" r="1.9"/><circle cx="196.8" cy="220.6" r="1.9"/><circle cx="199.5" cy="219.9" r="1.9"/><circle cx="202.2" cy="220.8" r="1.9"/><circle cx="203.6" cy="220.2" r="1.9"/><circle cx="206.5" cy="219.6" r="1.9"/><circle cx="210.1" cy="220.9" r="1.9"/><circle cx="212.6" cy="220.6" r="1.9"/><circle cx="215.6" cy="221.0" r="1.9"/><circle cx="218.4" cy="220.1" r="1.9"/><circle cx="221.2" cy="220.8" r="1.9"/><circle cx="223.0" cy="220.3" r="1.9"/><circle cx="252.7" cy="221.0" r="1.9"/><circle cx="258.9" cy="220.4" r="1.9"/><circle cx="260.2" cy="219.6" r="1.9"/><circle cx="266.5" cy="220.8" r="1.9"/><circle cx="269.6" cy="219.6" r="1.9"/><circle cx="271.6" cy="220.0" r="1.9"/><circle cx="284.7" cy="220.0" r="1.9"/><circle cx="288.3" cy="220.0" r="1.9"/><circle cx="290.1" cy="220.1" r="1.9"/><circle cx="292.9" cy="219.5" r="1.9"/><circle cx="296.1" cy="219.8" r="1.9"/><circle cx="188.5" cy="222.8" r="1.9"/><circle cx="191.2" cy="222.7" r="1.9"/><circle cx="193.7" cy="223.7" r="1.9"/><circle cx="196.6" cy="223.2" r="1.9"/><circle cx="198.6" cy="222.7" r="1.9"/><circle cx="200.9" cy="222.2" r="1.9"/><circle cx="203.8" cy="222.4" r="1.9"/><circle cx="207.4" cy="223.5" r="1.9"/><circle cx="209.3" cy="222.5" r="1.9"/><circle cx="212.2" cy="222.4" r="1.9"/><circle cx="220.1" cy="222.7" r="1.9"/><circle cx="222.9" cy="222.9" r="1.9"/><circle cx="225.3" cy="222.9" r="1.9"/><circle cx="247.1" cy="223.7" r="1.9"/><circle cx="250.5" cy="223.1" r="1.9"/><circle cx="253.3" cy="223.5" r="1.9"/><circle cx="255.9" cy="223.4" r="1.9"/><circle cx="258.2" cy="222.9" r="1.9"/><circle cx="261.4" cy="223.4" r="1.9"/><circle cx="264.2" cy="223.2" r="1.9"/><circle cx="265.9" cy="222.1" r="1.9"/><circle cx="268.8" cy="222.3" r="1.9"/><circle cx="271.8" cy="223.1" r="1.9"/><circle cx="274.7" cy="222.9" r="1.9"/><circle cx="277.6" cy="223.3" r="1.9"/><circle cx="281.8" cy="223.3" r="1.9"/><circle cx="284.5" cy="222.5" r="1.9"/><circle cx="290.6" cy="222.7" r="1.9"/><circle cx="293.6" cy="223.3" r="1.9"/><circle cx="296.2" cy="222.2" r="1.9"/><circle cx="298.3" cy="223.3" r="1.9"/><circle cx="188.1" cy="224.7" r="1.9"/><circle cx="190.3" cy="225.8" r="1.9"/><circle cx="193.7" cy="225.2" r="1.9"/><circle cx="196.0" cy="225.4" r="1.9"/><circle cx="202.2" cy="224.7" r="1.9"/><circle cx="204.7" cy="226.2" r="1.9"/><circle cx="209.1" cy="225.6" r="1.9"/><circle cx="212.3" cy="226.2" r="1.9"/><circle cx="215.5" cy="225.5" r="1.9"/><circle cx="218.0" cy="225.1" r="1.9"/><circle cx="220.4" cy="224.7" r="1.9"/><circle cx="223.1" cy="225.4" r="1.9"/><circle cx="225.2" cy="225.3" r="1.9"/><circle cx="229.0" cy="224.7" r="1.9"/><circle cx="231.7" cy="224.9" r="1.9"/><circle cx="234.2" cy="226.1" r="1.9"/><circle cx="241.9" cy="225.1" r="1.9"/><circle cx="244.1" cy="226.0" r="1.9"/><circle cx="248.1" cy="225.1" r="1.9"/><circle cx="250.1" cy="225.0" r="1.9"/><circle cx="253.5" cy="226.1" r="1.9"/><circle cx="258.3" cy="225.9" r="1.9"/><circle cx="261.3" cy="225.4" r="1.9"/><circle cx="263.8" cy="225.2" r="1.9"/><circle cx="267.0" cy="224.9" r="1.9"/><circle cx="268.7" cy="225.2" r="1.9"/><circle cx="272.5" cy="225.1" r="1.9"/><circle cx="274.1" cy="225.6" r="1.9"/><circle cx="276.6" cy="225.0" r="1.9"/><circle cx="280.4" cy="225.5" r="1.9"/><circle cx="283.2" cy="226.3" r="1.9"/><circle cx="284.6" cy="225.0" r="1.9"/><circle cx="287.6" cy="224.8" r="1.9"/><circle cx="290.2" cy="225.6" r="1.9"/><circle cx="293.7" cy="225.4" r="1.9"/><circle cx="296.0" cy="225.3" r="1.9"/><circle cx="190.9" cy="228.7" r="1.9"/><circle cx="193.0" cy="227.7" r="1.9"/><circle cx="196.0" cy="228.8" r="1.9"/><circle cx="199.4" cy="227.3" r="1.9"/><circle cx="201.8" cy="228.7" r="1.9"/><circle cx="204.3" cy="227.3" r="1.9"/><circle cx="207.6" cy="228.6" r="1.9"/><circle cx="210.4" cy="227.7" r="1.9"/><circle cx="211.7" cy="228.1" r="1.9"/><circle cx="215.7" cy="228.5" r="1.9"/><circle cx="218.1" cy="228.0" r="1.9"/><circle cx="219.7" cy="228.6" r="1.9"/><circle cx="223.8" cy="228.3" r="1.9"/><circle cx="225.2" cy="227.7" r="1.9"/><circle cx="228.8" cy="227.5" r="1.9"/><circle cx="231.2" cy="228.2" r="1.9"/><circle cx="233.5" cy="228.3" r="1.9"/><circle cx="239.5" cy="228.7" r="1.9"/><circle cx="245.0" cy="227.8" r="1.9"/><circle cx="247.4" cy="228.4" r="1.9"/><circle cx="249.7" cy="228.4" r="1.9"/><circle cx="252.4" cy="227.4" r="1.9"/><circle cx="255.4" cy="228.4" r="1.9"/><circle cx="258.7" cy="228.5" r="1.9"/><circle cx="260.4" cy="228.9" r="1.9"/><circle cx="264.1" cy="227.7" r="1.9"/><circle cx="269.0" cy="227.6" r="1.9"/><circle cx="273.8" cy="227.9" r="1.9"/><circle cx="277.9" cy="227.5" r="1.9"/><circle cx="279.1" cy="227.9" r="1.9"/><circle cx="285.9" cy="227.8" r="1.9"/><circle cx="288.6" cy="228.5" r="1.9"/><circle cx="290.9" cy="227.9" r="1.9"/><circle cx="293.0" cy="227.6" r="1.9"/><circle cx="298.1" cy="228.8" r="1.9"/><circle cx="191.2" cy="230.6" r="1.9"/><circle cx="193.4" cy="230.5" r="1.9"/><circle cx="195.6" cy="230.5" r="1.9"/><circle cx="198.0" cy="230.6" r="1.9"/><circle cx="201.9" cy="230.0" r="1.9"/><circle cx="203.5" cy="231.4" r="1.9"/><circle cx="207.3" cy="231.3" r="1.9"/><circle cx="209.2" cy="231.4" r="1.9"/><circle cx="211.9" cy="231.0" r="1.9"/><circle cx="214.6" cy="229.9" r="1.9"/><circle cx="219.6" cy="230.3" r="1.9"/><circle cx="223.8" cy="231.4" r="1.9"/><circle cx="225.4" cy="230.6" r="1.9"/><circle cx="229.2" cy="230.2" r="1.9"/><circle cx="231.6" cy="231.2" r="1.9"/><circle cx="234.1" cy="230.4" r="1.9"/><circle cx="236.4" cy="231.2" r="1.9"/><circle cx="238.8" cy="231.1" r="1.9"/><circle cx="241.3" cy="230.0" r="1.9"/><circle cx="244.4" cy="231.5" r="1.9"/><circle cx="248.2" cy="230.3" r="1.9"/><circle cx="249.5" cy="230.7" r="1.9"/><circle cx="252.7" cy="230.3" r="1.9"/><circle cx="255.7" cy="231.0" r="1.9"/><circle cx="258.8" cy="231.0" r="1.9"/><circle cx="261.4" cy="230.4" r="1.9"/><circle cx="263.4" cy="231.1" r="1.9"/><circle cx="265.9" cy="230.3" r="1.9"/><circle cx="269.6" cy="230.8" r="1.9"/><circle cx="271.5" cy="231.5" r="1.9"/><circle cx="274.0" cy="231.2" r="1.9"/><circle cx="277.9" cy="230.1" r="1.9"/><circle cx="280.3" cy="231.2" r="1.9"/><circle cx="281.8" cy="230.4" r="1.9"/><circle cx="284.7" cy="231.5" r="1.9"/><circle cx="288.6" cy="230.5" r="1.9"/><circle cx="290.5" cy="230.3" r="1.9"/><circle cx="294.0" cy="230.1" r="1.9"/><circle cx="296.2" cy="230.2" r="1.9"/><circle cx="298.1" cy="230.2" r="1.9"/><circle cx="190.2" cy="232.5" r="1.9"/><circle cx="193.7" cy="232.8" r="1.9"/><circle cx="195.6" cy="233.8" r="1.9"/><circle cx="198.1" cy="232.7" r="1.9"/><circle cx="201.6" cy="233.5" r="1.9"/><circle cx="203.7" cy="233.6" r="1.9"/><circle cx="209.3" cy="233.4" r="1.9"/><circle cx="214.8" cy="232.8" r="1.9"/><circle cx="217.2" cy="232.5" r="1.9"/><circle cx="220.3" cy="233.8" r="1.9"/><circle cx="223.7" cy="233.2" r="1.9"/><circle cx="225.0" cy="233.4" r="1.9"/><circle cx="229.2" cy="232.6" r="1.9"/><circle cx="231.0" cy="233.3" r="1.9"/><circle cx="233.6" cy="233.3" r="1.9"/><circle cx="236.0" cy="233.3" r="1.9"/><circle cx="240.0" cy="232.8" r="1.9"/><circle cx="242.7" cy="234.1" r="1.9"/><circle cx="244.0" cy="234.0" r="1.9"/><circle cx="248.0" cy="233.5" r="1.9"/><circle cx="249.6" cy="233.8" r="1.9"/><circle cx="252.6" cy="233.9" r="1.9"/><circle cx="255.0" cy="232.8" r="1.9"/><circle cx="258.2" cy="233.1" r="1.9"/><circle cx="260.5" cy="233.7" r="1.9"/><circle cx="262.9" cy="233.4" r="1.9"/><circle cx="265.6" cy="233.8" r="1.9"/><circle cx="269.2" cy="233.4" r="1.9"/><circle cx="271.4" cy="233.2" r="1.9"/><circle cx="274.3" cy="233.6" r="1.9"/><circle cx="277.0" cy="232.5" r="1.9"/><circle cx="279.8" cy="232.9" r="1.9"/><circle cx="282.9" cy="233.2" r="1.9"/><circle cx="285.2" cy="232.7" r="1.9"/><circle cx="287.8" cy="232.6" r="1.9"/><circle cx="290.6" cy="232.6" r="1.9"/><circle cx="292.6" cy="233.7" r="1.9"/><circle cx="296.0" cy="232.6" r="1.9"/><circle cx="298.5" cy="234.0" r="1.9"/><circle cx="191.1" cy="236.4" r="1.9"/><circle cx="196.8" cy="235.4" r="1.9"/><circle cx="199.5" cy="235.2" r="1.9"/><circle cx="201.9" cy="235.4" r="1.9"/><circle cx="203.8" cy="236.4" r="1.9"/><circle cx="206.9" cy="236.6" r="1.9"/><circle cx="209.2" cy="235.9" r="1.9"/><circle cx="211.6" cy="235.4" r="1.9"/><circle cx="215.7" cy="236.2" r="1.9"/><circle cx="217.2" cy="236.4" r="1.9"/><circle cx="220.4" cy="236.1" r="1.9"/><circle cx="223.7" cy="236.0" r="1.9"/><circle cx="228.7" cy="235.7" r="1.9"/><circle cx="230.8" cy="236.7" r="1.9"/><circle cx="233.7" cy="236.3" r="1.9"/><circle cx="236.1" cy="236.3" r="1.9"/><circle cx="239.8" cy="235.5" r="1.9"/><circle cx="242.8" cy="236.0" r="1.9"/><circle cx="244.4" cy="235.1" r="1.9"/><circle cx="246.8" cy="236.1" r="1.9"/><circle cx="250.1" cy="236.5" r="1.9"/><circle cx="252.4" cy="236.1" r="1.9"/><circle cx="254.7" cy="235.7" r="1.9"/><circle cx="258.0" cy="235.5" r="1.9"/><circle cx="261.0" cy="235.4" r="1.9"/><circle cx="265.9" cy="235.3" r="1.9"/><circle cx="269.2" cy="236.5" r="1.9"/><circle cx="271.5" cy="235.5" r="1.9"/><circle cx="274.6" cy="236.0" r="1.9"/><circle cx="280.2" cy="235.5" r="1.9"/><circle cx="281.8" cy="236.0" r="1.9"/><circle cx="284.8" cy="235.2" r="1.9"/><circle cx="290.0" cy="235.4" r="1.9"/><circle cx="293.3" cy="236.1" r="1.9"/><circle cx="295.5" cy="235.6" r="1.9"/><circle cx="298.0" cy="236.5" r="1.9"/><circle cx="191.3" cy="238.9" r="1.9"/><circle cx="193.8" cy="238.4" r="1.9"/><circle cx="195.5" cy="238.1" r="1.9"/><circle cx="198.5" cy="238.9" r="1.9"/><circle cx="202.1" cy="238.8" r="1.9"/><circle cx="204.3" cy="238.4" r="1.9"/><circle cx="206.9" cy="238.1" r="1.9"/><circle cx="210.3" cy="238.0" r="1.9"/><circle cx="211.5" cy="238.1" r="1.9"/><circle cx="215.4" cy="239.2" r="1.9"/><circle cx="217.4" cy="239.1" r="1.9"/><circle cx="220.0" cy="239.2" r="1.9"/><circle cx="225.8" cy="239.0" r="1.9"/><circle cx="229.1" cy="238.4" r="1.9"/><circle cx="231.3" cy="238.2" r="1.9"/><circle cx="234.1" cy="237.8" r="1.9"/><circle cx="236.0" cy="237.7" r="1.9"/><circle cx="240.0" cy="238.3" r="1.9"/><circle cx="241.2" cy="237.8" r="1.9"/><circle cx="244.9" cy="238.8" r="1.9"/><circle cx="246.7" cy="238.6" r="1.9"/><circle cx="250.6" cy="239.0" r="1.9"/><circle cx="252.1" cy="239.1" r="1.9"/><circle cx="256.2" cy="237.9" r="1.9"/><circle cx="257.6" cy="237.8" r="1.9"/><circle cx="261.4" cy="238.7" r="1.9"/><circle cx="263.8" cy="238.2" r="1.9"/><circle cx="265.7" cy="238.9" r="1.9"/><circle cx="268.7" cy="238.4" r="1.9"/><circle cx="271.3" cy="238.2" r="1.9"/><circle cx="277.1" cy="239.1" r="1.9"/><circle cx="279.0" cy="238.4" r="1.9"/><circle cx="282.9" cy="238.3" r="1.9"/><circle cx="285.3" cy="238.0" r="1.9"/><circle cx="287.2" cy="239.0" r="1.9"/><circle cx="289.8" cy="238.0" r="1.9"/><circle cx="294.1" cy="237.7" r="1.9"/><circle cx="296.0" cy="239.0" r="1.9"/><circle cx="298.7" cy="238.3" r="1.9"/><circle cx="193.7" cy="241.1" r="1.9"/><circle cx="196.3" cy="240.4" r="1.9"/><circle cx="199.1" cy="241.6" r="1.9"/><circle cx="201.3" cy="240.9" r="1.9"/><circle cx="204.8" cy="240.4" r="1.9"/><circle cx="206.1" cy="240.6" r="1.9"/><circle cx="210.2" cy="241.1" r="1.9"/><circle cx="212.9" cy="240.7" r="1.9"/><circle cx="215.1" cy="241.5" r="1.9"/><circle cx="217.9" cy="240.9" r="1.9"/><circle cx="219.8" cy="241.6" r="1.9"/><circle cx="223.5" cy="240.6" r="1.9"/><circle cx="226.2" cy="241.2" r="1.9"/><circle cx="228.4" cy="241.7" r="1.9"/><circle cx="230.7" cy="240.8" r="1.9"/><circle cx="234.4" cy="240.5" r="1.9"/><circle cx="236.2" cy="240.8" r="1.9"/><circle cx="238.8" cy="240.8" r="1.9"/><circle cx="242.8" cy="241.5" r="1.9"/><circle cx="245.4" cy="240.5" r="1.9"/><circle cx="248.2" cy="241.6" r="1.9"/><circle cx="250.0" cy="240.6" r="1.9"/><circle cx="252.2" cy="240.6" r="1.9"/><circle cx="254.8" cy="240.9" r="1.9"/><circle cx="258.5" cy="241.1" r="1.9"/><circle cx="260.8" cy="240.5" r="1.9"/><circle cx="263.4" cy="241.5" r="1.9"/><circle cx="266.2" cy="241.2" r="1.9"/><circle cx="268.9" cy="240.7" r="1.9"/><circle cx="272.3" cy="241.5" r="1.9"/><circle cx="275.0" cy="241.4" r="1.9"/><circle cx="277.0" cy="240.8" r="1.9"/><circle cx="279.2" cy="241.0" r="1.9"/><circle cx="282.8" cy="241.3" r="1.9"/><circle cx="285.1" cy="241.0" r="1.9"/><circle cx="290.1" cy="241.3" r="1.9"/><circle cx="295.3" cy="241.2" r="1.9"/></g>
<circle cx="324.4" cy="190.7" r="2.8" fill="#ff1a1a"/>
<circle cx="292.2" cy="202.7" r="2.8" fill="#ff1a1a"/>
<circle cx="275.7" cy="213.1" r="2.8" fill="#ff1a1a"/>
<circle cx="293.5" cy="231.5" r="2.8" fill="#ff1a1a"/>
<circle cx="270.5" cy="233.6" r="2.8" fill="#ff1a1a"/>
<circle cx="261.6" cy="235.6" r="2.8" fill="#ff1a1a"/>
<circle cx="265.4" cy="235.6" r="2.8" fill="#ff1a1a"/>
<text x="236.3" y="63.0" font-size="15" text-anchor="start" font-weight="normal" fill="#111" >PD-1</text>
<text x="236.3" y="85.0" font-size="15" text-anchor="start" font-weight="normal" fill="#111" >PD-L1</text>
<text x="236.3" y="107.0" font-size="15" text-anchor="start" font-weight="normal" fill="#111" >TIM3</text>
<text x="236.3" y="129.0" font-size="15" text-anchor="start" font-weight="normal" fill="#111" >CTLA4</text>
<text x="236.3" y="151.0" font-size="15" text-anchor="start" font-weight="normal" fill="#111" >LAG3</text>
<text x="236.3" y="173.0" font-size="15" text-anchor="start" font-weight="normal" fill="#111" >B7H3</text>
<text x="1.2" y="338.5" font-size="17" text-anchor="start" font-weight="bold" fill="#000" >C</text>
<text x="60.6" y="339.5" font-size="15.2" text-anchor="start" font-weight="bold" fill="#000" >PD-L2 changes</text>
<line x1="13" y1="360.9" x2="224" y2="360.9" stroke="#efefef" stroke-width="0.7"/>
<line x1="13" y1="424.4" x2="224" y2="424.4" stroke="#efefef" stroke-width="0.7"/>
<line x1="13" y1="456.1" x2="224" y2="456.1" stroke="#efefef" stroke-width="0.7"/>
<line x1="13" y1="487.9" x2="224" y2="487.9" stroke="#efefef" stroke-width="0.7"/>
<line x1="37.9" y1="352" x2="37.9" y2="490" stroke="#efefef" stroke-width="0.7"/>
<line x1="65.3" y1="352" x2="65.3" y2="490" stroke="#efefef" stroke-width="0.7"/>
<line x1="120.1" y1="352" x2="120.1" y2="490" stroke="#efefef" stroke-width="0.7"/>
<line x1="147.6" y1="352" x2="147.6" y2="490" stroke="#efefef" stroke-width="0.7"/>
<line x1="175" y1="352" x2="175" y2="490" stroke="#efefef" stroke-width="0.7"/>
<line x1="202.4" y1="352" x2="202.4" y2="490" stroke="#efefef" stroke-width="0.7"/>
<line x1="13" y1="392.6" x2="224" y2="392.6" stroke="#c8c8c8" stroke-width="1.6"/>
<text x="15.5" y="362.5" font-size="4.5" text-anchor="end" font-weight="normal" fill="#999" >0.5</text>
<text x="15.5" y="394.2" font-size="4.5" text-anchor="end" font-weight="normal" fill="#999" >0</text>
<text x="15.5" y="426.0" font-size="4.5" text-anchor="end" font-weight="normal" fill="#999" >−0.5</text>
<text x="15.5" y="457.7" font-size="4.5" text-anchor="end" font-weight="normal" fill="#999" >−1</text>
<text x="15.5" y="489.5" font-size="4.5" text-anchor="end" font-weight="normal" fill="#999" >−1.5</text>
<text x="0" y="0" font-size="5" text-anchor="middle" fill="#999" transform="translate(4.3,421) rotate(-90)">Relative Units</text>
<path d="M37.9,368.5 L92.6,401.5 L147.6,434.5 L202.4,385.6" fill="none" stroke="#F07B52" stroke-width="0.8"/>
<path d="M37.9,371.0 L92.6,399.0 L147.6,434.5 L202.4,390.7" fill="none" stroke="#EE8E5A" stroke-width="0.8"/>
<path d="M37.9,372.9 L92.6,374.2 L147.6,445.9 L202.4,379.3" fill="none" stroke="#E596D8" stroke-width="0.8"/>
<path d="M37.9,380.5 L92.6,391.3 L147.6,441.5 L202.4,364.7" fill="none" stroke="#A9D86E" stroke-width="0.8"/>
<path d="M37.9,387.5 L92.6,392.6 L147.6,383.7 L202.4,375.5" fill="none" stroke="#A8A0D0" stroke-width="0.8"/>
<path d="M37.9,392.6 L92.6,386.9 L147.6,358.9 L202.4,381.8" fill="none" stroke="#D8A878" stroke-width="0.8"/>
<path d="M37.9,398.3 L92.6,399.6" fill="none" stroke="#66C2A5" stroke-width="0.8"/>
<path d="M37.9,408.5 L92.6,397.7 L147.6,387.5 L202.4,378.0" fill="none" stroke="#E39A8E" stroke-width="0.8"/>
<path d="M37.9,414.2 L92.6,379.3 L147.6,447.2 L202.4,383.7" fill="none" stroke="#B48BE0" stroke-width="0.8"/>
<path d="M37.9,411.0 L92.6,411.7 L147.6,456.1 L202.4,404.7" fill="none" stroke="#C4C4EC" stroke-width="0.8"/>
<path d="M37.9,419.3 L92.6,429.4 L147.6,463.7 L202.4,410.4" fill="none" stroke="#D8E050" stroke-width="0.8"/>
<path d="M37.9,428.2 L92.6,429.4 L147.6,422.4 L202.4,416.7" fill="none" stroke="#B9E070" stroke-width="0.8"/>
<path d="M37.9,428.2 L92.6,434.5 L147.6,452.9 L202.4,414.2" fill="none" stroke="#EE7D6A" stroke-width="0.8"/>
<path d="M37.9,435.8 L92.6,414.2 L147.6,447.2 L202.4,420.5" fill="none" stroke="#E57CC8" stroke-width="0.8"/>
<path d="M37.9,451.7 L92.6,445.3 L147.6,482.1 L202.4,436.4" fill="none" stroke="#F5C560" stroke-width="0.8"/>
<path d="M92.6,391.3 L147.6,414.8" fill="none" stroke="#F2D040" stroke-width="0.8"/>
<path d="M92.6,395.8 L147.6,434.5 L202.4,431.3" fill="none" stroke="#C89AD8" stroke-width="0.8"/>
<line x1="92.6" y1="352" x2="92.6" y2="510.5" stroke="#8c8c8c" stroke-width="1"/>
<text x="119.9" y="364.8" font-size="17.4" text-anchor="middle" font-weight="normal" fill="#000" >***</text>
<text x="174.3" y="364.8" font-size="17.4" text-anchor="middle" font-weight="normal" fill="#000" >***</text>
<rect x="36.3" y="490.3" width="166.9" height="20.19999999999999" fill="none" stroke="#9a9a9a" stroke-width="0.9"/>
<line x1="149.5" y1="490.3" x2="149.5" y2="510.5" stroke="#9a9a9a" stroke-width="0.9"/>
<text x="64.3" y="506.0" font-size="15.5" text-anchor="middle" font-weight="normal" fill="#111" >SBRT</text>
<text x="120.5" y="506.0" font-size="15.5" text-anchor="middle" font-weight="normal" fill="#111" >TPE</text>
<text x="176.0" y="506.0" font-size="15.5" text-anchor="middle" font-weight="normal" fill="#111" >ICI</text>
<text x="2.5" y="567.5" font-size="17" text-anchor="start" font-weight="bold" fill="#000" >F</text>
<text x="60.8" y="568.1" font-size="16.6" text-anchor="start" font-weight="bold" fill="#000" >TIM3 changes</text>
<line x1="13" y1="580.3" x2="224" y2="580.3" stroke="#efefef" stroke-width="0.7"/>
<line x1="13" y1="598.4" x2="224" y2="598.4" stroke="#efefef" stroke-width="0.7"/>
<line x1="13" y1="616.5" x2="224" y2="616.5" stroke="#efefef" stroke-width="0.7"/>
<line x1="13" y1="634.6" x2="224" y2="634.6" stroke="#efefef" stroke-width="0.7"/>
<line x1="13" y1="670.8" x2="224" y2="670.8" stroke="#efefef" stroke-width="0.7"/>
<line x1="13" y1="688.9" x2="224" y2="688.9" stroke="#efefef" stroke-width="0.7"/>
<line x1="13" y1="707.0" x2="224" y2="707.0" stroke="#efefef" stroke-width="0.7"/>
<line x1="37.9" y1="576" x2="37.9" y2="717" stroke="#efefef" stroke-width="0.7"/>
<line x1="65.3" y1="576" x2="65.3" y2="717" stroke="#efefef" stroke-width="0.7"/>
<line x1="120.1" y1="576" x2="120.1" y2="717" stroke="#efefef" stroke-width="0.7"/>
<line x1="147.6" y1="576" x2="147.6" y2="717" stroke="#efefef" stroke-width="0.7"/>
<line x1="175" y1="576" x2="175" y2="717" stroke="#efefef" stroke-width="0.7"/>
<line x1="202.4" y1="576" x2="202.4" y2="717" stroke="#efefef" stroke-width="0.7"/>
<line x1="13" y1="652.7" x2="224" y2="652.7" stroke="#c8c8c8" stroke-width="1.6"/>
<text x="15.5" y="581.9" font-size="4.5" text-anchor="end" font-weight="normal" fill="#999" >2</text>
<text x="15.5" y="600.0" font-size="4.5" text-anchor="end" font-weight="normal" fill="#999" >1.5</text>
<text x="15.5" y="618.1" font-size="4.5" text-anchor="end" font-weight="normal" fill="#999" >1</text>
<text x="15.5" y="636.2" font-size="4.5" text-anchor="end" font-weight="normal" fill="#999" >0.5</text>
<text x="15.5" y="654.3" font-size="4.5" text-anchor="end" font-weight="normal" fill="#999" >0</text>
<text x="15.5" y="672.4" font-size="4.5" text-anchor="end" font-weight="normal" fill="#999" >−0.5</text>
<text x="15.5" y="690.5" font-size="4.5" text-anchor="end" font-weight="normal" fill="#999" >−1</text>
<text x="15.5" y="708.6" font-size="4.5" text-anchor="end" font-weight="normal" fill="#999" >−1.5</text>
<text x="0" y="0" font-size="5" text-anchor="middle" fill="#999" transform="translate(4.3,647.6) rotate(-90)">Relative Units</text>
<path d="M37.9,593.3 L92.6,584.3 L147.6,629.5 L202.4,610.7" fill="none" stroke="#B48BE0" stroke-width="0.8"/>
<path d="M37.9,610.0 L92.6,603.5 L147.6,661.4 L202.4,594.8" fill="none" stroke="#A9D86E" stroke-width="0.8"/>
<path d="M37.9,607.5 L92.6,610.0 L147.6,669.0 L202.4,610.3" fill="none" stroke="#E596D8" stroke-width="0.8"/>
<path d="M37.9,608.9 L92.6,625.6 L147.6,671.5 L202.4,616.9" fill="none" stroke="#EE7D6A" stroke-width="0.8"/>
<path d="M37.9,616.9 L92.6,615.4 L147.6,663.9 L202.4,618.3" fill="none" stroke="#E39A8E" stroke-width="0.8"/>
<path d="M37.9,618.7 L92.6,613.6 L147.6,602.0 L202.4,623.4" fill="none" stroke="#D8A878" stroke-width="0.8"/>
<path d="M37.9,628.8 L92.6,634.2 L147.6,687.5 L202.4,634.2" fill="none" stroke="#F2D040" stroke-width="0.8"/>
<path d="M37.9,630.3 L92.6,640.0 L147.6,672.6 L202.4,649.1" fill="none" stroke="#F5B860" stroke-width="0.8"/>
<path d="M37.9,633.2 L92.6,643.7" fill="none" stroke="#66C2A5" stroke-width="0.8"/>
<path d="M37.9,638.2 L92.6,635.0 L147.6,632.1 L202.4,628.8" fill="none" stroke="#D8E050" stroke-width="0.8"/>
<path d="M37.9,640.0 L92.6,636.0 L147.6,667.2 L202.4,630.3" fill="none" stroke="#E57CC8" stroke-width="0.8"/>
<path d="M37.9,646.9 L92.6,653.4 L147.6,643.7 L202.4,635.0" fill="none" stroke="#A8A0D0" stroke-width="0.8"/>
<path d="M37.9,647.6 L92.6,660.3 L147.6,694.7 L202.4,635.0" fill="none" stroke="#9A9AD8" stroke-width="0.8"/>
<path d="M37.9,648.4 L92.6,667.2 L147.6,655.2 L202.4,652.7" fill="none" stroke="#E8A090" stroke-width="0.8"/>
<path d="M37.9,667.9 L92.6,665.4 L147.6,709.5 L202.4,643.3" fill="none" stroke="#EE8E5A" stroke-width="0.8"/>
<path d="M92.6,638.2 L147.6,682.4 L202.4,617.2" fill="none" stroke="#C8C878" stroke-width="0.8"/>
<path d="M92.6,636.4 L147.6,689.6 L202.4,624.1" fill="none" stroke="#E0E048" stroke-width="0.8"/>
<path d="M92.6,641.8 L147.6,708.8 L202.4,649.1" fill="none" stroke="#F5C560" stroke-width="0.8"/>
<line x1="92.6" y1="576" x2="92.6" y2="736.5" stroke="#8c8c8c" stroke-width="1"/>
<text x="119.9" y="598.3" font-size="17.4" text-anchor="middle" font-weight="normal" fill="#000" >***</text>
<text x="174.3" y="598.3" font-size="17.4" text-anchor="middle" font-weight="normal" fill="#000" >***</text>
<rect x="36.3" y="717" width="166.9" height="19.5" fill="none" stroke="#9a9a9a" stroke-width="0.9"/>
<line x1="149.5" y1="717" x2="149.5" y2="736.5" stroke="#9a9a9a" stroke-width="0.9"/>
<text x="64.3" y="732.4" font-size="15.5" text-anchor="middle" font-weight="normal" fill="#111" >SBRT</text>
<text x="120.5" y="732.4" font-size="15.5" text-anchor="middle" font-weight="normal" fill="#111" >TPE</text>
<text x="176.0" y="732.4" font-size="15.5" text-anchor="middle" font-weight="normal" fill="#111" >ICI</text>
</svg></body></html>
